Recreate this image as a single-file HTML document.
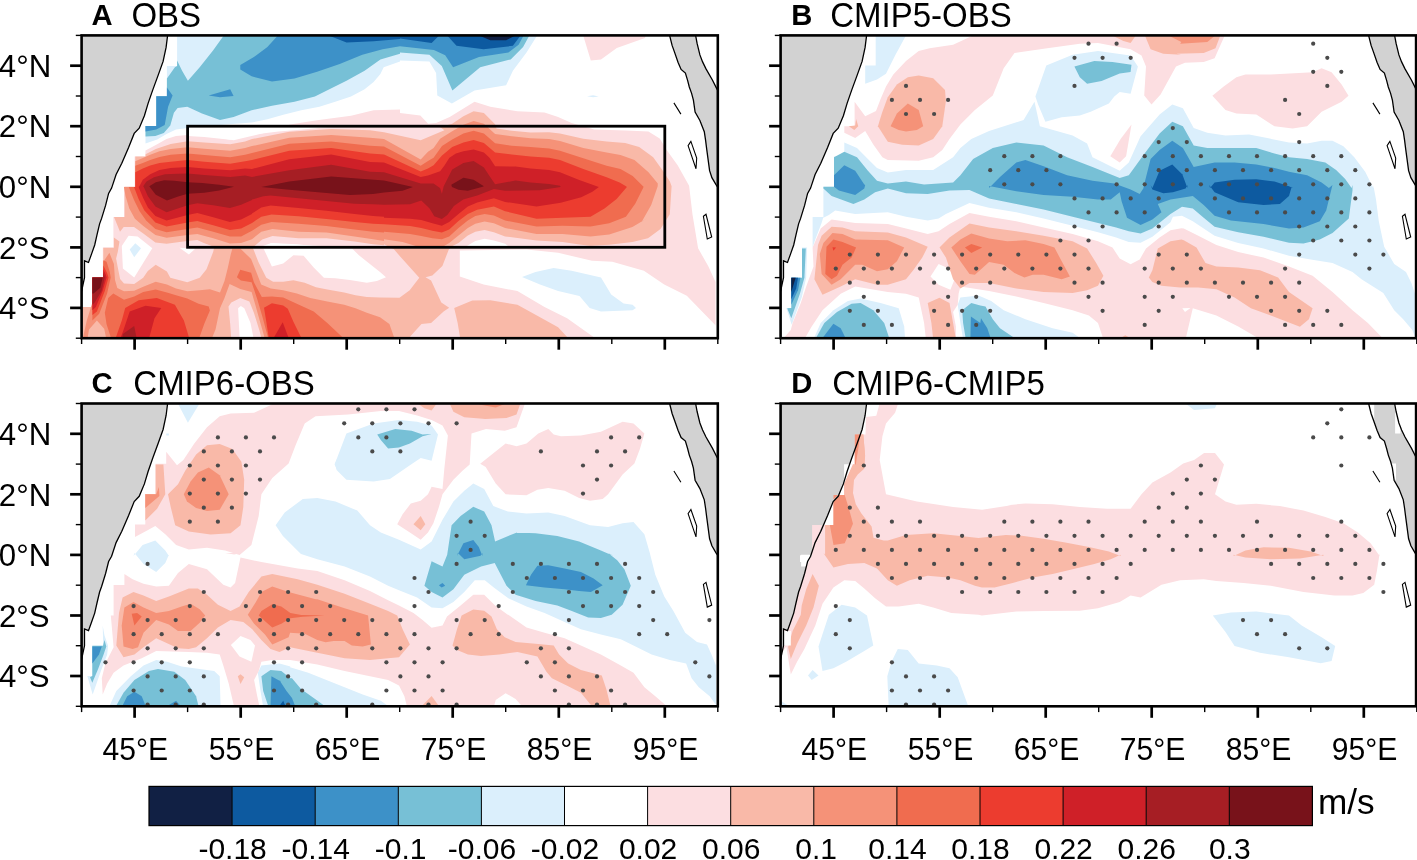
<!DOCTYPE html><html><head><meta charset="utf-8"><title>Figure</title><style>html,body{margin:0;padding:0;background:#fff}svg{display:block}text{font-family:"Liberation Sans",sans-serif;fill:#000}</style></head><body>
<svg width="1417" height="860" viewBox="0 0 1417 860">
<rect width="1417" height="860" fill="#fff"/>
<g transform="translate(81.6,35.4)">
<clipPath id="cpA"><rect x="0" y="0" width="636.2" height="302.8"/></clipPath>
<g clip-path="url(#cpA)">
<polygon fill="#dbeffc" points="95.5,0.2 95.5,30.7 85.3,30.7 85.3,60.8 74.7,60.8 74.7,90.6 63.9,90.6 63.9,108.0 75.6,104.1 84.9,98.7 94.4,94.2 105.9,92.6 138.4,89.5 170.0,87.2 185.8,83.8 201.7,79.3 219.7,74.8 237.8,71.4 253.6,66.4 269.4,61.2 283.0,53.8 292.0,46.5 298.8,38.6 302.1,31.9 318.4,26.2 318.4,25.1 347.8,26.2 354.5,37.5 355.7,60.1 370.3,68.0 392.9,55.1 424.5,49.9 431.3,35.3 444.9,17.2 456.2,-0.9 95.5,-0.9"/>
<polygon fill="#77c0d6" points="142.9,-0.9 131.6,14.9 118.1,31.9 106.3,45.4 100.5,35.3 95.5,25.1 95.5,30.7 93.3,31.9 85.3,43.2 85.3,60.8 74.7,60.8 74.7,90.6 63.9,90.6 63.9,101.2 73.8,100.7 82.2,97.6 88.7,90.1 92.3,77.3 96.0,72.5 105.7,71.4 120.4,78.2 138.4,84.5 152.0,81.5 170.0,74.8 190.4,70.3 212.9,66.4 233.3,61.2 246.8,54.4 264.9,45.4 283.0,35.3 298.8,24.0 318.4,18.3 318.4,17.2 347.8,19.4 360.2,30.7 370.8,55.1 398.6,31.9 429.1,24.0 441.5,11.5 448.3,-0.9"/>
<polygon fill="#3d91c8" points="197.1,-0.9 185.8,11.5 172.3,21.7 158.7,29.6 158.7,34.1 170.0,40.9 190.4,46.1 212.9,43.2 235.5,36.4 258.1,28.5 280.7,19.4 301.0,13.8 318.4,10.9 318.4,10.9 352.3,14.5 363.6,19.9 371.5,31.9 397.4,21.7 426.8,17.2 437.0,9.3 442.6,-0.9"/>
<polygon fill="#3d91c8" points="85.3,52.2 91.0,60.1 86.5,71.4 83.1,89.5 74.7,94.0 63.9,96.2 63.9,90.6 74.7,90.6 74.7,60.8 85.3,60.8"/>
<polygon fill="#3d91c8" points="127.1,60.1 148.6,53.8 152.0,60.5 138.4,61.9"/>
<polygon fill="#0d5aa0" points="244.6,-0.9 264.9,7.0 292.0,5.9 318.4,3.6 318.4,3.2 350.0,7.7 358.6,-0.9"/>
<polygon fill="#0d5aa0" points="364.7,-0.9 374.9,10.4 402.0,13.8 431.3,10.4 439.7,-0.9"/>
<polygon fill="#112044" points="395.2,-0.9 408.7,4.8 424.5,4.8 435.8,-0.9"/>
<polygon fill="#fcdee1" points="501.3,-0.9 509.2,25.1 519.4,24.0 535.2,12.7 563.4,2.5 564.6,-0.9"/>
<polygon fill="#dbeffc" points="505.4,60.8 511.5,59.9 517.1,61.0 511.5,61.9"/>
<polygon fill="#fcdee1" points="63.9,115.0 75.6,108.9 84.9,103.7 94.4,100.5 105.9,99.6 115.8,99.2 133.9,101.9 152.0,104.8 170.0,100.7 188.1,96.2 208.4,89.0 235.5,84.9 269.4,80.4 292.0,74.8 318.4,74.1 318.4,77.7 338.7,80.0 346.6,88.3 354.5,87.6 368.1,81.5 392.9,66.4 408.7,71.4 435.8,75.9 462.9,77.0 476.5,81.5 490.0,87.6 512.6,94.0 544.2,95.1 566.8,96.2 578.1,103.0 584.9,114.3 596.2,130.1 607.5,150.4 610.9,179.0 616.5,212.8 626.7,230.9 633.9,246.7 633.9,307.7 0.0,308.9 0.0,272.5 10.6,272.5 10.6,242.2 21.2,242.2 21.2,212.0 31.8,212.0 31.8,181.7 42.4,181.7 42.4,151.4 53.0,151.4 53.0,121.1 63.6,121.1"/>
<polygon fill="#ffffff" points="378.2,215.1 444.9,214.0 476.5,217.4 510.4,225.3 530.7,226.4 562.3,235.4 582.6,249.0 605.2,260.3 634.6,290.7 634.6,307.7 520.5,307.7 485.5,282.8 462.9,271.6 435.8,255.7 402.0,249.0 378.2,241.1"/>
<polygon fill="#dbeffc" points="440.4,241.7 453.9,236.5 472.0,232.7 490.0,235.4 519.4,242.2 529.6,259.1 542.0,268.2 551.0,269.3 554.4,272.7 551.0,274.9 519.4,276.1 508.1,272.7 497.9,260.7 476.5,255.7 458.4,249.0"/>
<polygon fill="#ffffff" points="181.9,213.0 270.5,213.0 277.3,219.8 288.6,228.8 298.4,236.7 304.4,241.8 295.3,245.7 285.2,247.4 285.2,247.4 268.3,244.6 253.6,242.9 242.3,242.3 232.1,232.2 222.0,220.3 211.8,219.8 201.6,228.2 190.3,231.1"/>
<polygon fill="#ffffff" points="47.0,200.4 56.0,201.1 70.7,212.8 52.6,242.2 41.3,233.2 40.2,210.6"/>
<polygon fill="#dbeffc" points="48.1,214.0 53.7,207.9 59.4,212.8 52.6,221.9"/>
<polygon fill="#ffffff" points="97.8,212.4 107.3,219.2 113.6,213.3"/>
<polygon fill="#ffffff" points="384.4,211.2 393.7,205.6 403.0,203.3 412.3,205.2 423.5,208.4 427.2,211.2"/>
<polygon fill="#ffffff" points="178.4,211.7 189.6,207.6 215.6,208.9 239.8,211.7"/>
<polygon fill="#ffffff" points="106.0,91.7 106.0,100.6 122.6,101.6 148.6,104.4 163.5,99.7 178.4,96.0 178.4,98.4 197.0,96.0 215.6,94.7 239.8,92.3 252.8,91.7"/>
<polygon fill="#f9b9a8" points="64.0,118.9 74.2,113.7 89.1,108.5 106.0,105.9 122.6,107.2 148.6,108.8 163.5,106.2 170.4,103.7 207.7,96.3 249.6,93.5 288.4,94.9 302.4,96.8 339.1,104.9 362.8,94.9 358.5,91.6 370.6,88.4 381.8,80.9 392.0,75.8 402.3,77.7 413.5,88.8 414.9,93.0 430.2,95.4 448.9,97.2 467.5,96.8 478.4,98.1 501.7,103.3 525.0,106.1 543.6,107.5 557.6,111.7 571.6,121.9 580.9,134.9 588.3,146.1 590.0,150.9 588.2,178.8 578.9,193.7 566.4,202.8 550.8,206.6 527.6,209.4 508.9,210.3 499.6,209.4 481.0,206.6 454.9,205.2 423.5,201.0 412.3,196.8 403.0,194.5 393.7,196.3 386.2,200.0 376.9,207.5 371.3,210.3 367.6,213.5 311.7,213.5 302.4,208.9 302.4,209.8 291.5,208.9 272.9,206.1 244.9,202.8 217.0,202.8 190.9,200.5 180.6,204.2 173.2,210.3 170.4,213.1 131.6,211.2 122.2,207.5 115.7,204.7 105.9,205.6 98.0,206.6 85.0,208.4 73.8,207.0 61.7,198.2 52.4,191.7 42.1,191.7 38.4,196.3 32.4,181.6 43.0,181.6 43.0,151.4 53.7,151.4 53.7,121.1 64.0,121.1"/>
<polygon fill="#f9b9a8" points="32.3,202.0 37.9,206.1 36.2,216.4 34.5,223.2 36.2,232.2 38.5,243.5 42.4,248.0 52.6,248.6 61.6,242.3 66.2,235.6 74.1,229.4 85.3,236.1 88.7,242.3 105.7,246.9 118.1,242.3 124.9,233.9 131.6,216.4 133.3,208.5 142.9,208.8 170.0,208.8 172.3,215.2 176.8,226.5 184.7,242.3 191.5,246.3 201.6,246.3 211.8,244.8 223.1,247.4 234.4,251.9 245.7,254.2 262.6,257.0 273.9,259.8 285.2,261.5 298.4,262.1 317.9,262.4 328.1,254.8 337.7,242.3 317.9,220.3 311.7,213.0 367.6,213.0 360.8,230.5 350.7,240.1 343.9,241.8 349.5,245.2 359.7,267.2 367.6,272.3 362.0,276.2 349.5,287.5 339.9,288.6 328.6,301.1 328.6,304.5 0.2,307.7 0.2,272.2 10.8,272.2 10.8,242.2 21.7,242.2 21.7,212.4 32.3,212.4"/>
<polygon fill="#f9b9a8" points="372.6,272.7 390.7,265.2 408.7,264.8 435.8,269.3 456.2,280.6 476.5,291.9 491.2,307.7 379.4,307.7 376.0,287.4"/>
<polygon fill="#f59278" points="53.7,125.8 61.2,122.6 68.6,119.3 77.9,115.9 89.1,113.7 106.0,111.8 122.6,113.3 148.6,115.3 163.5,112.7 170.4,110.7 207.7,102.3 249.6,99.5 288.4,102.4 302.4,103.7 339.1,124.1 346.4,116.3 352.0,112.6 358.5,103.3 370.6,95.8 381.8,89.3 392.0,85.6 402.3,88.4 413.5,98.6 430.2,100.9 448.9,102.8 467.5,103.7 478.4,105.6 501.7,112.6 525.0,117.2 538.9,119.6 552.9,124.7 566.9,136.8 576.2,148.0 576.1,150.9 569.6,169.5 560.3,186.2 566.4,182.3 550.8,191.7 527.6,199.1 508.9,201.0 481.0,198.6 454.9,198.6 423.5,192.6 412.3,187.9 403.0,186.1 393.7,188.4 386.2,192.6 376.9,200.0 367.6,207.5 362.0,210.8 349.0,212.1 335.0,210.8 321.0,206.6 302.4,203.8 302.4,205.6 291.5,203.8 272.9,201.0 244.9,197.2 217.0,196.3 190.9,193.5 179.7,196.3 170.4,203.8 170.4,203.8 159.5,207.5 148.3,208.0 131.6,202.8 115.7,198.6 105.9,199.6 85.0,202.4 73.8,199.6 61.7,190.7 53.3,183.3 47.7,173.0 44.0,160.9 42.3,151.6 53.7,151.6"/>
<polygon fill="#f59278" points="21.7,226.4 27.8,217.4 32.3,228.6 33.4,244.5 35.7,252.5 42.4,255.9 52.6,255.3 61.6,251.4 74.1,246.3 85.3,249.1 94.4,253.1 105.7,255.9 118.1,254.8 128.3,253.9 138.4,257.0 142.9,245.7 146.3,232.2 149.1,219.2 150.8,213.0 158.7,213.0 169.5,223.7 175.7,239.0 179.6,249.1 189.2,253.1 201.6,254.8 215.2,258.2 228.7,262.7 245.7,266.1 262.6,269.4 273.9,272.8 285.2,277.4 298.4,281.9 307.8,288.6 313.4,304.5 0.2,307.7 0.2,272.2 10.8,272.2 10.8,242.2 21.7,242.2"/>
<polygon fill="#f9b9a8" points="128.3,307.7 133.9,294.1 138.4,272.8 142.9,262.7 148.0,248.6 158.7,253.6 170.0,256.5 173.4,268.3 179.1,288.6 183.6,304.5"/>
<polygon fill="#fcdee1" points="146.9,271.1 149.7,267.2 158.7,262.7 167.8,266.1 172.3,277.4 177.9,295.4 180.2,304.5 149.7,304.5 148.6,288.6"/>
<polygon fill="#ffffff" points="156.5,272.8 159.3,270.6 162.7,272.8 168.9,287.5 172.3,304.5 158.2,304.5 157.0,283.0"/>
<polygon fill="#f9b9a8" points="0.2,272.2 10.8,272.2 10.8,267.0 21.0,285.1 25.5,307.7 0.2,307.7"/>
<polygon fill="#f59278" points="10.8,267.0 21.0,276.1 23.2,294.1 15.3,285.1 7.4,294.1 5.2,307.7 0.2,307.7 5.2,285.1"/>
<polygon fill="#f06c4f" points="53.7,130.4 61.2,127.6 68.6,124.5 77.9,121.5 89.1,119.3 106.0,118.1 122.6,119.6 148.6,121.9 163.5,119.3 170.4,117.7 207.7,108.4 249.6,106.1 288.4,110.4 302.4,111.2 339.1,130.3 346.4,125.6 352.0,122.4 360.4,110.7 370.6,104.2 381.8,98.1 392.0,95.4 402.3,98.1 413.5,107.9 430.2,110.3 448.9,111.7 467.5,113.1 478.4,115.4 501.7,122.8 525.0,130.3 538.9,133.5 551.1,140.5 562.2,151.7 561.2,151.8 562.0,151.6 553.6,168.4 544.3,181.4 527.6,187.9 508.9,191.2 481.0,190.3 454.9,191.2 423.5,185.1 412.3,180.0 403.0,178.6 393.7,180.5 386.2,185.1 376.9,192.6 367.6,201.0 360.2,203.8 350.8,202.8 339.7,200.5 328.5,198.6 302.4,196.3 302.4,197.2 291.5,196.3 272.9,194.0 244.9,190.7 217.0,188.4 190.0,186.5 179.7,189.3 170.4,195.4 170.4,195.4 159.5,201.0 148.3,201.0 131.6,196.3 115.7,192.1 105.9,193.5 85.0,196.8 73.8,193.5 64.5,185.1 58.0,175.8 52.4,164.6 47.2,151.6 53.7,151.6"/>
<polygon fill="#f06c4f" points="31.7,258.2 42.4,264.4 52.6,261.0 61.6,256.5 74.1,254.2 85.3,257.0 94.4,259.8 105.7,263.2 117.0,268.3 127.1,271.1 128.3,275.1 122.6,288.6 115.8,307.8 31.1,307.8 24.9,288.6 23.2,277.4 26.6,262.7"/>
<polygon fill="#f06c4f" points="155.3,241.8 158.7,234.4 169.5,237.3 172.3,246.9 180.2,261.5 190.3,261.0 201.6,262.1 215.2,268.3 232.1,276.2 245.7,287.5 263.7,304.5 187.0,304.5 181.3,283.0 175.7,263.8 170.0,246.9 159.3,245.2"/>
<polygon fill="#f06c4f" points="21.7,224.8 25.0,226.4 28.2,236.5 29.1,242.2 25.5,258.0 17.6,278.3 10.8,285.1 10.8,242.2 21.7,242.2"/>
<polygon fill="#ec3c2f" points="53.7,136.9 61.2,133.2 68.6,130.0 77.9,127.6 89.1,126.3 106.0,124.6 122.6,126.3 148.6,128.4 163.5,125.9 170.4,124.7 207.7,115.4 249.6,112.6 288.4,118.2 302.4,119.1 339.1,136.1 346.4,133.1 352.0,129.8 360.4,120.0 370.6,111.7 381.8,107.0 392.0,104.7 402.3,107.5 413.5,117.2 430.2,119.1 448.9,121.0 467.5,122.4 478.4,124.7 501.7,133.5 525.0,141.9 538.0,147.1 544.4,150.9 545.3,151.6 535.0,163.7 522.9,173.0 508.9,181.4 481.0,182.3 454.9,183.3 423.5,175.8 412.3,171.2 395.6,174.4 386.2,178.6 376.9,185.6 367.6,194.0 360.2,197.2 350.8,195.4 339.7,192.6 328.5,190.7 302.4,188.9 302.4,188.9 291.5,188.4 272.9,186.5 244.9,183.7 217.0,180.9 190.0,179.1 179.7,181.4 170.4,187.5 170.4,187.5 159.5,193.1 148.3,194.5 131.6,189.8 115.7,185.6 105.9,187.0 85.0,191.2 73.8,187.0 62.6,174.9 57.0,163.7 52.4,151.6 53.7,151.6"/>
<polygon fill="#ec3c2f" points="40.2,285.1 43.6,272.7 57.1,264.8 75.2,262.5 93.3,269.3 102.3,285.1 109.1,307.7 32.3,307.7"/>
<polygon fill="#ec3c2f" points="182.4,272.3 190.3,267.8 201.6,270.0 206.2,273.4 211.8,286.4 220.8,304.5 187.5,304.5 184.7,286.4"/>
<polygon fill="#ec3c2f" points="21.7,230.0 25.5,237.7 26.9,242.2 23.2,255.7 15.3,276.1 10.8,279.5 10.8,242.2 21.7,242.2"/>
<polygon fill="#cf2028" points="57.8,150.9 61.2,144.4 68.6,138.8 77.9,134.5 89.1,132.6 106.0,131.7 122.6,133.2 148.6,134.9 163.5,133.0 170.4,133.5 207.7,123.8 249.6,119.1 288.4,126.6 302.4,127.0 339.1,141.7 346.4,140.1 358.5,135.9 362.7,130.3 367.8,122.4 374.3,118.2 381.8,115.8 392.0,114.0 402.3,117.2 407.9,122.4 413.5,130.8 434.0,131.2 448.9,133.1 467.5,134.5 478.4,136.8 497.0,144.3 516.5,151.4 517.3,151.6 510.8,156.3 499.6,161.8 479.1,167.4 454.9,171.2 423.5,166.5 412.3,162.8 395.6,167.0 386.2,171.2 376.9,178.6 367.6,186.5 360.2,190.3 350.8,187.9 339.7,184.7 328.5,183.3 302.4,182.3 302.4,181.4 291.5,180.5 272.9,178.6 244.9,175.4 217.0,172.6 189.0,170.2 179.7,172.1 170.4,178.1 170.4,178.6 159.5,184.2 148.3,186.5 131.6,181.9 115.7,177.7 105.9,179.5 85.0,185.1 73.8,180.5 66.3,172.1 61.7,162.8 57.0,151.6"/>
<polygon fill="#cf2028" points="41.3,296.4 48.1,276.1 63.9,270.4 79.7,272.7 72.9,282.8 66.2,307.7 36.8,307.7"/>
<polygon fill="#cf2028" points="190.9,304.5 201.1,286.9 207.8,304.5"/>
<polygon fill="#cf2028" points="21.7,233.8 24.1,239.0 25.0,242.2 21.0,255.7 14.2,271.6 10.8,274.9 10.8,242.2 21.7,242.2"/>
<polygon fill="#a61e24" points="61.6,150.9 64.9,146.2 72.4,141.9 83.5,138.8 96.5,138.4 106.0,138.2 122.6,139.7 148.6,141.6 163.5,140.1 170.4,141.5 207.7,134.9 249.6,129.4 288.4,136.3 302.4,136.8 339.1,148.0 351.9,148.1 358.4,152.7 360.3,158.3 362.1,150.9 370.6,134.0 381.8,127.5 392.0,125.6 402.3,132.1 407.9,140.5 413.5,148.9 434.0,145.2 448.9,147.1 467.5,148.5 478.4,150.3 479.1,151.6 457.7,154.9 423.5,155.3 412.3,153.5 395.6,160.0 381.6,164.2 372.3,170.7 365.7,179.5 360.2,183.7 352.7,180.9 348.0,173.0 339.7,165.1 328.5,168.8 302.4,169.3 302.4,169.3 291.5,168.8 272.9,168.4 244.9,165.6 217.0,162.8 189.0,160.0 181.6,160.9 170.4,164.2 170.4,164.6 159.5,169.3 148.3,172.6 131.6,169.8 115.7,167.9 105.9,169.8 85.0,176.8 73.8,171.2 66.3,160.9 62.2,151.6"/>
<polygon fill="#a61e24" points="41.3,298.7 52.6,290.7 56.0,307.7 40.2,307.7"/>
<polygon fill="#a61e24" points="21.7,236.8 23.2,242.2 19.9,255.7 13.1,267.0 10.8,269.3 10.8,242.2 21.7,242.2"/>
<polygon fill="#78121a" points="67.7,150.9 74.2,146.8 82.6,144.9 92.8,145.3 106.0,146.8 120.7,147.5 137.5,149.4 152.4,151.4 137.5,155.0 122.6,157.4 106.0,158.3 96.5,161.1 85.4,165.2 74.2,159.3 70.5,154.6"/>
<polygon fill="#78121a" points="179.7,151.7 207.7,146.1 249.6,141.0 302.4,145.2 319.2,148.8 331.3,151.6 321.0,155.3 302.4,157.2 291.5,158.6 268.2,159.5 244.9,157.7 207.7,154.4 179.7,151.6"/>
<polygon fill="#78121a" points="369.7,149.4 381.8,142.4 392.0,144.3 402.3,150.8 400.2,151.6 386.2,155.3 376.9,154.4 370.4,151.6"/>
<polygon fill="#78121a" points="10.8,242.2 21.0,242.2 18.7,252.4 12.0,258.0 10.8,258.0"/>
<polygon fill="#ffffff" points="189.0,207.7 201.1,208.6 230.0,210.0 241.2,210.5 189.0,210.5"/>
<polygon fill="#d2d2d2" points="86.0,0.0 84.5,12.0 81.5,26.0 76.5,40.0 71.0,55.0 66.5,68.0 62.8,80.4 57.6,92.8 52.6,98.0 47.0,112.0 40.2,127.8 34.5,139.1 30.0,152.7 27.0,158.0 24.0,170.0 20.0,183.0 18.0,188.5 15.5,199.0 13.1,209.6 10.0,218.5 6.9,227.1 2.9,225.4 2.9,242.3 1.2,250.2 0.0,256.0 0.0,0.0"/>
<polygon fill="#d2d2d2" points="588.0,0.0 590.5,10.0 593.0,17.0 596.5,27.0 599.5,34.0 603.8,37.6 606.0,45.0 607.7,51.6 610.0,58.0 611.8,64.7 613.5,76.7 618.3,85.1 622.7,96.3 624.0,105.0 625.2,114.4 628.0,135.3 630.3,142.3 634.4,149.3 636.2,152.0 636.2,55.0 636.2,55.0 635.0,53.0 630.8,44.6 624.4,33.5 621.0,26.5 618.3,19.5 615.5,8.0 614.0,0.0"/>
<polyline fill="none" stroke="#000" stroke-width="1.3" points="86.0,0.0 84.5,12.0 81.5,26.0 76.5,40.0 71.0,55.0 66.5,68.0 62.8,80.4 57.6,92.8 52.6,98.0 47.0,112.0 40.2,127.8 34.5,139.1 30.0,152.7 27.0,158.0 24.0,170.0 20.0,183.0 18.0,188.5 15.5,199.0 13.1,209.6 10.0,218.5 6.9,227.1 2.9,225.4 2.9,242.3 1.2,250.2 0.0,256.0"/>
<polyline fill="none" stroke="#000" stroke-width="1.3" points="588.0,0.0 590.5,10.0 593.0,17.0 596.5,27.0 599.5,34.0 603.8,37.6 606.0,45.0 607.7,51.6 610.0,58.0 611.8,64.7 613.5,76.7 618.3,85.1 622.7,96.3 624.0,105.0 625.2,114.4 628.0,135.3 630.3,142.3 634.4,149.3 636.2,152.0"/>
<polyline fill="none" stroke="#000" stroke-width="1.3" points="614.0,0.0 615.5,8.0 618.3,19.5 621.0,26.5 624.4,33.5 630.8,44.6 635.0,53.0 636.2,55.0"/>
<polygon fill="none" stroke="#000" stroke-width="1.1" points="592.3,67.5 599.3,78.7"/>
<polygon fill="none" stroke="#000" stroke-width="1.1" points="609.3,106.0 606.5,110.2 614.4,133.4 615.1,122.6"/>
<polygon fill="none" stroke="#000" stroke-width="1.1" points="624.4,178.9 621.8,180.9 625.7,203.6 630.1,201.6"/>
<rect x="106.0" y="90.8" width="477.2" height="121.1" fill="none" stroke="#000" stroke-width="2.8"/>
</g>
<rect x="0" y="0" width="636.2" height="302.8" fill="none" stroke="#000" stroke-width="2.6"/>
<line x1="-5.8" y1="0.0" x2="0" y2="0.0" stroke="#000" stroke-width="1.4"/>
<line x1="-11.5" y1="30.3" x2="0" y2="30.3" stroke="#000" stroke-width="2.7"/>
<line x1="-5.8" y1="60.6" x2="0" y2="60.6" stroke="#000" stroke-width="1.4"/>
<line x1="-11.5" y1="90.8" x2="0" y2="90.8" stroke="#000" stroke-width="2.7"/>
<line x1="-5.8" y1="121.1" x2="0" y2="121.1" stroke="#000" stroke-width="1.4"/>
<line x1="-11.5" y1="151.4" x2="0" y2="151.4" stroke="#000" stroke-width="2.7"/>
<line x1="-5.8" y1="181.7" x2="0" y2="181.7" stroke="#000" stroke-width="1.4"/>
<line x1="-11.5" y1="212.0" x2="0" y2="212.0" stroke="#000" stroke-width="2.7"/>
<line x1="-5.8" y1="242.2" x2="0" y2="242.2" stroke="#000" stroke-width="1.4"/>
<line x1="-11.5" y1="272.5" x2="0" y2="272.5" stroke="#000" stroke-width="2.7"/>
<line x1="-5.8" y1="302.8" x2="0" y2="302.8" stroke="#000" stroke-width="1.4"/>
<line x1="0.0" y1="302.8" x2="0.0" y2="308.6" stroke="#000" stroke-width="1.4"/>
<line x1="53.0" y1="302.8" x2="53.0" y2="314.3" stroke="#000" stroke-width="2.7"/>
<line x1="106.0" y1="302.8" x2="106.0" y2="308.6" stroke="#000" stroke-width="1.4"/>
<line x1="159.1" y1="302.8" x2="159.1" y2="314.3" stroke="#000" stroke-width="2.7"/>
<line x1="212.1" y1="302.8" x2="212.1" y2="308.6" stroke="#000" stroke-width="1.4"/>
<line x1="265.1" y1="302.8" x2="265.1" y2="314.3" stroke="#000" stroke-width="2.7"/>
<line x1="318.1" y1="302.8" x2="318.1" y2="308.6" stroke="#000" stroke-width="1.4"/>
<line x1="371.1" y1="302.8" x2="371.1" y2="314.3" stroke="#000" stroke-width="2.7"/>
<line x1="424.1" y1="302.8" x2="424.1" y2="308.6" stroke="#000" stroke-width="1.4"/>
<line x1="477.2" y1="302.8" x2="477.2" y2="314.3" stroke="#000" stroke-width="2.7"/>
<line x1="530.2" y1="302.8" x2="530.2" y2="308.6" stroke="#000" stroke-width="1.4"/>
<line x1="583.2" y1="302.8" x2="583.2" y2="314.3" stroke="#000" stroke-width="2.7"/>
<line x1="636.2" y1="302.8" x2="636.2" y2="308.6" stroke="#000" stroke-width="1.4"/>
<text transform="translate(9.8,-10.8) scale(1,1.030)" font-size="29.2" font-weight="bold">A</text>
<text transform="translate(49.8,-8.6) scale(1,1.050)" font-size="33.0">OBS</text>
</g>
<g transform="translate(780.6,35.4)">
<clipPath id="cpB"><rect x="0" y="0" width="636.2" height="302.8"/></clipPath>
<g clip-path="url(#cpB)">
<polygon fill="#dbeffc" points="63.7,107.2 76.4,112.7 87.3,123.6 96.4,132.6 107.2,137.2 125.4,134.5 152.6,134.5 172.5,121.8 179.8,112.7 190.7,103.6 208.5,95.5 243.0,84.6 253.9,66.4 259.3,90.9 292.0,100.0 306.5,108.2 311.9,121.8 339.1,135.4 348.2,127.2 360.0,100.9 379.0,79.1 391.7,69.2 402.3,72.8 413.1,92.7 426.7,97.3 444.9,100.0 468.5,99.1 486.6,102.7 508.4,107.2 526.5,108.2 541.0,105.4 551.9,105.4 562.8,110.9 573.7,121.8 584.6,136.3 592.7,152.6 592.7,149.6 595.4,164.1 598.2,185.9 603.6,211.3 613.6,228.5 625.4,236.7 630.8,247.6 634.4,258.4 634.4,301.6 631.7,294.7 622.6,283.8 613.6,274.8 602.7,257.5 580.9,243.9 571.9,236.7 551.9,227.6 530.1,224.0 508.4,220.3 483.0,213.1 457.6,207.6 434.0,200.4 412.2,185.9 401.4,180.4 392.3,181.3 389.9,186.8 371.8,201.3 360.0,207.3 348.2,206.7 335.5,202.2 317.4,196.8 292.0,190.4 263.0,183.2 235.7,176.8 208.5,172.3 188.9,167.7 165.3,178.6 158.0,183.2 147.1,185.0 125.4,181.3 107.2,176.8 74.6,178.6 54.6,175.0 48.3,179.5 42.8,182.3 42.8,181.7 41.0,187.7 34.7,204.0 32.0,212.2 32.0,181.7 42.8,181.7 42.8,151.4 53.4,151.4 53.4,121.0 63.7,121.0"/>
<polygon fill="#77c0d6" points="53.4,121.8 63.7,116.3 76.4,121.8 87.3,135.4 96.4,145.3 107.2,148.1 125.4,146.2 143.5,149.0 172.5,147.2 179.8,139.9 192.5,123.6 212.2,112.7 235.7,107.2 263.0,110.0 286.5,121.8 311.9,131.7 339.1,142.6 348.2,139.9 362.7,119.9 379.0,98.2 391.7,86.4 402.3,90.9 413.1,110.0 426.7,112.7 454.0,112.7 475.7,112.7 493.9,118.1 508.4,121.8 526.5,123.6 544.7,127.2 555.5,134.5 564.6,143.5 571.0,152.6 571.9,149.6 571.9,155.0 568.2,183.2 551.9,197.7 539.2,204.0 522.9,208.0 508.4,207.3 483.0,201.3 457.6,196.8 434.0,191.3 423.1,182.3 412.2,173.2 401.4,171.4 389.9,178.6 371.8,193.1 360.0,198.2 348.2,195.9 335.5,192.2 317.4,187.7 292.0,181.3 263.0,174.1 235.7,168.6 208.5,163.2 188.9,154.7 168.9,155.0 147.1,158.7 125.4,157.8 107.2,153.2 94.5,156.9 83.7,164.1 72.8,168.6 51.0,160.5 42.8,153.2 42.8,151.4 53.4,151.4"/>
<polygon fill="#3d91c8" points="53.4,139.9 63.7,129.9 74.6,135.4 83.7,149.0 84.6,149.6 83.7,153.2 74.6,159.6 58.3,155.0 53.4,151.4"/>
<polygon fill="#3d91c8" points="208.5,152.6 219.4,141.7 235.7,127.2 244.8,124.5 263.0,130.8 286.5,139.9 311.9,145.3 333.7,148.1 350.0,154.1 359.1,158.7 362.7,153.2 364.5,145.3 370.0,123.6 379.0,114.5 391.7,105.4 402.3,112.7 413.1,131.7 434.0,127.2 454.0,127.2 475.7,129.0 493.9,132.6 508.4,136.3 526.5,139.9 541.0,147.2 548.3,152.6 551.9,149.6 551.0,153.2 545.6,175.0 539.2,185.9 522.9,192.2 508.4,193.1 483.0,188.6 450.3,185.0 434.0,180.4 423.1,169.6 412.2,160.5 389.9,164.1 377.2,168.6 380.9,176.8 371.8,184.1 360.0,189.5 346.4,182.3 341.0,165.9 339.1,156.9 330.1,164.1 317.4,164.1 292.0,161.4 263.0,159.6 235.7,155.9 208.5,150.5"/>
<polygon fill="#0d5aa0" points="371.8,152.6 379.0,135.4 391.7,129.0 402.6,139.9 401.4,138.1 406.8,152.6 406.8,149.6 405.0,153.2 392.3,156.9 382.7,157.8 371.8,154.1 370.0,149.6"/>
<polygon fill="#0d5aa0" points="429.5,152.6 434.0,147.2 454.0,144.4 475.7,143.9 493.9,146.2 508.4,150.8 512.0,152.6 511.1,151.4 508.4,160.5 499.3,168.6 483.0,169.6 457.6,166.8 434.0,156.9 428.6,149.6"/>
<polygon fill="#dbeffc" points="254.8,61.0 265.7,30.2 292.0,19.3 317.4,15.6 350.0,20.2 357.3,31.1 350.0,58.3 339.1,56.5 333.7,61.0 328.3,68.2 310.1,76.4 299.2,80.0 281.1,81.9 264.8,86.4 257.5,69.2"/>
<polygon fill="#77c0d6" points="293.8,31.1 313.7,25.6 331.9,26.5 350.9,29.3 350.0,36.5 339.1,38.0 321.0,45.6 306.5,48.3 299.2,41.9"/>
<polygon fill="#dbeffc" points="95.1,-1.6 126.3,-1.6 114.5,20.2 105.4,38.3 96.4,44.1 84.6,48.3 84.6,30.2 95.1,30.2"/>
<polygon fill="#dbeffc" points="21.4,212.2 26.5,212.2 25.6,242.3 21.1,262.1 11.1,289.3 5.7,272.6 10.7,272.6 10.7,242.3 21.4,242.3"/>
<polygon fill="#77c0d6" points="21.4,213.1 25.2,213.1 23.8,242.3 19.3,258.4 10.7,282.9 6.6,272.9 10.7,272.6 10.7,242.3 21.4,242.3"/>
<polygon fill="#3d91c8" points="10.7,242.3 19.8,242.3 17.4,254.8 10.7,269.3"/>
<polygon fill="#0d5aa0" points="10.7,242.3 17.4,242.3 15.6,253.0 10.7,263.9"/>
<polygon fill="#112044" points="10.7,242.3 15.1,242.3 10.7,256.6"/>
<polygon fill="#dbeffc" points="32.9,303.8 40.1,287.5 52.8,274.8 67.3,265.7 80.0,263.0 100.0,267.5 118.1,272.9 123.6,291.1 124.5,303.8"/>
<polygon fill="#77c0d6" points="34.7,303.8 43.7,287.5 56.4,276.6 71.0,268.4 80.0,267.5 92.7,274.8 103.6,287.5 109.0,303.8"/>
<polygon fill="#3d91c8" points="41.0,303.8 52.8,288.4 60.1,292.9 65.5,303.8"/>
<polygon fill="#dbeffc" points="177.1,269.3 179.8,262.1 197.9,260.2 210.6,265.7 223.1,274.8 244.8,283.8 272.0,292.9 292.0,297.4 301.0,303.8 182.5,303.8 179.8,287.5"/>
<polygon fill="#77c0d6" points="181.6,274.8 190.7,267.5 199.7,270.2 204.9,271.1 212.2,283.8 219.4,292.9 235.7,303.8 185.2,303.8 182.5,287.5"/>
<polygon fill="#3d91c8" points="190.3,281.1 199.7,287.5 200.4,282.9 206.7,292.9 210.4,303.8 189.8,303.8"/>
<polygon fill="#fcdee1" points="196.1,-1.6 172.5,9.3 149.0,12.9 138.1,15.6 125.4,25.6 112.7,39.2 105.4,51.0 100.0,63.7 95.4,75.5 84.6,80.9 74.0,66.4 74.0,90.9 63.7,90.9 63.7,97.3 74.6,102.7 84.6,95.5 92.7,109.1 101.8,121.8 107.2,124.5 138.1,125.4 152.6,121.8 161.7,114.5 168.9,103.6 179.8,89.1 194.3,74.6 212.2,60.1 223.1,32.9 233.9,17.5 266.6,12.9 299.2,8.4 317.4,7.5 335.5,11.1 350.0,13.8 360.9,20.2 365.4,31.1 363.6,60.1 370.9,69.2 380.0,59.2 395.4,31.1 404.4,27.4 423.1,26.5 434.0,22.9 444.9,-1.6"/>
<polygon fill="#f9b9a8" points="363.6,-1.6 370.0,13.8 382.7,18.4 400.8,19.3 395.9,18.4 423.1,17.5 434.9,12.9 440.4,-1.6"/>
<polygon fill="#f9b9a8" points="328.3,-1.6 342.8,5.7 350.0,7.5 356.4,-1.6"/>
<polygon fill="#f59278" points="384.5,-1.6 400.8,6.6 399.5,8.4 426.7,6.6 436.7,-1.6"/>
<polygon fill="#f9b9a8" points="138.1,40.1 152.6,42.9 164.4,54.6 165.3,65.5 161.7,90.9 152.6,103.6 138.1,110.0 121.7,109.4 107.2,106.3 97.3,90.9 101.8,76.4 107.2,61.9 116.3,49.2 127.2,41.9"/>
<polygon fill="#f59278" points="127.2,68.2 138.1,74.6 142.6,90.9 136.3,94.6 125.4,96.0 118.1,94.6 110.0,90.9 116.3,78.2"/>
<polygon fill="#f9b9a8" points="75.5,83.7 77.7,90.9 73.7,94.6 68.2,90.9 74.6,90.0"/>
<polygon fill="#fcdee1" points="350.9,89.1 345.5,120.9 339.1,127.2 329.7,120.9 340.0,103.6"/>
<polygon fill="#fcdee1" points="431.8,60.4 443.1,51.0 455.8,41.9 464.8,39.2 490.2,39.2 522.9,37.4 532.0,36.9 541.0,32.9 551.0,36.9 561.0,49.2 567.9,60.4 561.0,66.4 541.0,76.4 526.5,90.9 512.0,93.1 493.9,90.9 475.7,79.1 455.8,78.2 444.9,74.6"/>
<polygon fill="#fcdee1" points="32.0,212.2 40.1,193.1 51.0,184.1 74.6,187.7 107.2,188.6 125.4,193.1 147.1,198.6 158.0,195.9 168.9,188.6 188.9,177.7 208.5,181.3 235.7,185.9 263.0,192.2 292.0,198.6 317.4,205.8 331.9,212.2 339.1,223.1 350.0,228.9 359.1,224.0 365.4,213.1 379.0,202.2 389.9,194.9 400.8,192.8 403.2,193.1 417.7,200.4 435.8,209.5 457.6,216.7 483.0,222.2 508.4,231.2 532.0,240.3 551.9,256.6 571.9,274.8 587.3,287.5 603.1,303.8 479.4,303.8 457.6,291.1 435.8,280.2 412.2,272.9 405.0,303.8 322.8,303.8 317.4,287.5 308.3,280.2 292.0,274.8 263.0,267.5 235.7,261.2 208.5,255.7 179.8,251.2 178.0,258.4 177.1,269.3 172.5,276.6 175.3,291.1 175.3,303.8 145.3,303.8 143.5,287.5 138.1,262.1 125.4,258.4 107.2,256.6 74.6,251.2 60.1,258.4 41.9,274.8 31.1,291.1 23.8,303.8 2.0,303.8 10.2,294.7 12.0,287.5 20.2,267.5 25.6,251.2 32.9,231.2"/>
<polygon fill="#ffffff" points="149.9,241.2 158.0,228.5 168.0,233.0 174.7,242.1 169.8,254.4 158.0,249.4"/>
<polygon fill="#ffffff" points="401.7,272.9 409.9,272.6 404.4,276.6"/>
<polygon fill="#f9b9a8" points="41.0,200.4 51.0,191.3 61.9,192.2 74.6,195.9 107.2,197.1 125.4,202.2 147.1,211.3 141.7,222.2 132.6,234.9 125.4,243.9 107.2,249.4 96.4,249.4 74.6,243.9 60.1,251.2 41.9,259.3 33.8,243.9 37.4,209.5"/>
<polygon fill="#f9b9a8" points="158.9,212.2 168.9,202.2 188.9,188.1 208.5,192.2 235.7,195.9 263.0,200.4 292.0,205.8 306.5,213.1 315.6,227.6 322.8,240.3 317.4,250.3 306.5,254.8 292.0,257.5 263.0,256.6 235.7,253.0 208.5,247.6 188.9,247.6 179.8,253.0 172.5,243.9 165.3,222.2"/>
<polygon fill="#f9b9a8" points="368.2,242.1 371.8,234.9 377.2,213.1 389.9,205.8 400.8,204.0 403.2,204.9 415.9,212.2 424.9,227.6 435.8,231.2 457.6,232.1 479.4,234.9 497.5,242.1 508.4,256.6 532.0,272.9 528.3,283.8 519.3,291.4 490.2,280.2 470.3,272.9 454.0,262.1 435.8,253.9 417.7,252.1 399.5,252.1 380.9,250.3 371.8,246.6"/>
<polygon fill="#f9b9a8" points="147.1,267.5 158.9,262.4 168.9,267.5 172.5,287.5 175.3,303.8 152.6,303.8 150.8,287.5"/>
<polygon fill="#f9b9a8" points="338.2,303.8 344.6,299.8 351.8,303.8"/>
<polygon fill="#f59278" points="42.8,207.6 51.9,197.7 61.9,198.6 74.6,204.0 107.2,204.9 123.6,212.2 116.3,225.8 107.2,233.9 96.4,235.8 81.8,229.4 74.6,229.4 60.1,243.9 51.0,249.4 41.0,238.5 39.2,218.5"/>
<polygon fill="#f59278" points="170.7,212.2 179.8,204.0 190.7,198.2 208.5,203.1 226.7,205.8 244.8,204.9 263.0,208.6 273.8,212.2 281.1,225.8 289.3,241.2 281.1,243.9 263.0,239.4 252.1,239.4 243.9,242.1 233.9,237.6 223.1,229.4 208.5,226.7 194.3,239.4 188.9,238.5 179.8,225.8"/>
<polygon fill="#f06c4f" points="45.9,211.3 52.8,204.0 61.9,206.7 75.5,212.2 71.0,222.2 61.9,229.4 56.4,240.3 51.0,243.9 44.7,238.5"/>
<polygon fill="#f06c4f" points="184.3,212.2 190.7,208.6 201.6,212.2 190.7,217.6"/>
<polygon fill="#ec3c2f" points="51.9,211.8 55.5,212.2 52.8,215.3"/>
<polygon fill="#d2d2d2" points="86.0,0.0 84.5,12.0 81.5,26.0 76.5,40.0 71.0,55.0 66.5,68.0 62.8,80.4 57.6,92.8 52.6,98.0 47.0,112.0 40.2,127.8 34.5,139.1 30.0,152.7 27.0,158.0 24.0,170.0 20.0,183.0 18.0,188.5 15.5,199.0 13.1,209.6 10.0,218.5 6.9,227.1 2.9,225.4 2.9,242.3 1.2,250.2 0.0,256.0 0.0,0.0"/>
<polygon fill="#d2d2d2" points="588.0,0.0 590.5,10.0 593.0,17.0 596.5,27.0 599.5,34.0 603.8,37.6 606.0,45.0 607.7,51.6 610.0,58.0 611.8,64.7 613.5,76.7 618.3,85.1 622.7,96.3 624.0,105.0 625.2,114.4 628.0,135.3 630.3,142.3 634.4,149.3 636.2,152.0 636.2,55.0 636.2,55.0 635.0,53.0 630.8,44.6 624.4,33.5 621.0,26.5 618.3,19.5 615.5,8.0 614.0,0.0"/>
<circle cx="55.2" cy="233.2" r="2.1" fill="#4a4a4a"/>
<circle cx="69.2" cy="219.2" r="2.1" fill="#4a4a4a"/>
<circle cx="69.2" cy="247.3" r="2.1" fill="#4a4a4a"/>
<circle cx="69.2" cy="275.4" r="2.1" fill="#4a4a4a"/>
<circle cx="83.2" cy="233.2" r="2.1" fill="#4a4a4a"/>
<circle cx="83.2" cy="261.4" r="2.1" fill="#4a4a4a"/>
<circle cx="83.2" cy="289.5" r="2.1" fill="#4a4a4a"/>
<circle cx="97.3" cy="219.2" r="2.1" fill="#4a4a4a"/>
<circle cx="97.3" cy="247.3" r="2.1" fill="#4a4a4a"/>
<circle cx="97.3" cy="275.4" r="2.1" fill="#4a4a4a"/>
<circle cx="111.3" cy="64.5" r="2.1" fill="#4a4a4a"/>
<circle cx="111.3" cy="233.2" r="2.1" fill="#4a4a4a"/>
<circle cx="111.3" cy="289.5" r="2.1" fill="#4a4a4a"/>
<circle cx="125.4" cy="50.5" r="2.1" fill="#4a4a4a"/>
<circle cx="125.4" cy="78.6" r="2.1" fill="#4a4a4a"/>
<circle cx="125.4" cy="219.2" r="2.1" fill="#4a4a4a"/>
<circle cx="139.4" cy="64.5" r="2.1" fill="#4a4a4a"/>
<circle cx="139.4" cy="233.2" r="2.1" fill="#4a4a4a"/>
<circle cx="153.5" cy="78.6" r="2.1" fill="#4a4a4a"/>
<circle cx="153.5" cy="219.2" r="2.1" fill="#4a4a4a"/>
<circle cx="153.5" cy="247.3" r="2.1" fill="#4a4a4a"/>
<circle cx="153.5" cy="275.4" r="2.1" fill="#4a4a4a"/>
<circle cx="167.5" cy="64.5" r="2.1" fill="#4a4a4a"/>
<circle cx="167.5" cy="233.2" r="2.1" fill="#4a4a4a"/>
<circle cx="167.5" cy="261.4" r="2.1" fill="#4a4a4a"/>
<circle cx="167.5" cy="289.5" r="2.1" fill="#4a4a4a"/>
<circle cx="181.5" cy="219.2" r="2.1" fill="#4a4a4a"/>
<circle cx="181.5" cy="247.3" r="2.1" fill="#4a4a4a"/>
<circle cx="181.5" cy="275.4" r="2.1" fill="#4a4a4a"/>
<circle cx="195.6" cy="233.2" r="2.1" fill="#4a4a4a"/>
<circle cx="195.6" cy="261.4" r="2.1" fill="#4a4a4a"/>
<circle cx="195.6" cy="289.5" r="2.1" fill="#4a4a4a"/>
<circle cx="209.6" cy="134.8" r="2.1" fill="#4a4a4a"/>
<circle cx="209.6" cy="219.2" r="2.1" fill="#4a4a4a"/>
<circle cx="209.6" cy="247.3" r="2.1" fill="#4a4a4a"/>
<circle cx="209.6" cy="275.4" r="2.1" fill="#4a4a4a"/>
<circle cx="223.7" cy="120.8" r="2.1" fill="#4a4a4a"/>
<circle cx="223.7" cy="148.9" r="2.1" fill="#4a4a4a"/>
<circle cx="223.7" cy="233.2" r="2.1" fill="#4a4a4a"/>
<circle cx="237.7" cy="134.8" r="2.1" fill="#4a4a4a"/>
<circle cx="237.7" cy="219.2" r="2.1" fill="#4a4a4a"/>
<circle cx="251.8" cy="120.8" r="2.1" fill="#4a4a4a"/>
<circle cx="251.8" cy="148.9" r="2.1" fill="#4a4a4a"/>
<circle cx="251.8" cy="233.2" r="2.1" fill="#4a4a4a"/>
<circle cx="265.8" cy="134.8" r="2.1" fill="#4a4a4a"/>
<circle cx="265.8" cy="219.2" r="2.1" fill="#4a4a4a"/>
<circle cx="279.8" cy="120.8" r="2.1" fill="#4a4a4a"/>
<circle cx="279.8" cy="148.9" r="2.1" fill="#4a4a4a"/>
<circle cx="279.8" cy="205.1" r="2.1" fill="#4a4a4a"/>
<circle cx="279.8" cy="233.2" r="2.1" fill="#4a4a4a"/>
<circle cx="293.9" cy="22.4" r="2.1" fill="#4a4a4a"/>
<circle cx="293.9" cy="50.5" r="2.1" fill="#4a4a4a"/>
<circle cx="293.9" cy="163.0" r="2.1" fill="#4a4a4a"/>
<circle cx="293.9" cy="191.1" r="2.1" fill="#4a4a4a"/>
<circle cx="293.9" cy="219.2" r="2.1" fill="#4a4a4a"/>
<circle cx="293.9" cy="247.3" r="2.1" fill="#4a4a4a"/>
<circle cx="307.9" cy="8.3" r="2.1" fill="#4a4a4a"/>
<circle cx="307.9" cy="177.0" r="2.1" fill="#4a4a4a"/>
<circle cx="307.9" cy="205.1" r="2.1" fill="#4a4a4a"/>
<circle cx="307.9" cy="233.2" r="2.1" fill="#4a4a4a"/>
<circle cx="307.9" cy="261.4" r="2.1" fill="#4a4a4a"/>
<circle cx="322.0" cy="22.4" r="2.1" fill="#4a4a4a"/>
<circle cx="322.0" cy="163.0" r="2.1" fill="#4a4a4a"/>
<circle cx="322.0" cy="191.1" r="2.1" fill="#4a4a4a"/>
<circle cx="322.0" cy="247.3" r="2.1" fill="#4a4a4a"/>
<circle cx="322.0" cy="275.4" r="2.1" fill="#4a4a4a"/>
<circle cx="336.0" cy="8.3" r="2.1" fill="#4a4a4a"/>
<circle cx="336.0" cy="148.9" r="2.1" fill="#4a4a4a"/>
<circle cx="336.0" cy="177.0" r="2.1" fill="#4a4a4a"/>
<circle cx="350.1" cy="22.4" r="2.1" fill="#4a4a4a"/>
<circle cx="350.1" cy="163.0" r="2.1" fill="#4a4a4a"/>
<circle cx="364.1" cy="120.8" r="2.1" fill="#4a4a4a"/>
<circle cx="364.1" cy="148.9" r="2.1" fill="#4a4a4a"/>
<circle cx="364.1" cy="177.0" r="2.1" fill="#4a4a4a"/>
<circle cx="364.1" cy="233.2" r="2.1" fill="#4a4a4a"/>
<circle cx="364.1" cy="261.4" r="2.1" fill="#4a4a4a"/>
<circle cx="364.1" cy="289.5" r="2.1" fill="#4a4a4a"/>
<circle cx="378.1" cy="106.7" r="2.1" fill="#4a4a4a"/>
<circle cx="378.1" cy="134.8" r="2.1" fill="#4a4a4a"/>
<circle cx="378.1" cy="163.0" r="2.1" fill="#4a4a4a"/>
<circle cx="378.1" cy="191.1" r="2.1" fill="#4a4a4a"/>
<circle cx="378.1" cy="219.2" r="2.1" fill="#4a4a4a"/>
<circle cx="378.1" cy="247.3" r="2.1" fill="#4a4a4a"/>
<circle cx="378.1" cy="275.4" r="2.1" fill="#4a4a4a"/>
<circle cx="392.2" cy="92.7" r="2.1" fill="#4a4a4a"/>
<circle cx="392.2" cy="120.8" r="2.1" fill="#4a4a4a"/>
<circle cx="392.2" cy="148.9" r="2.1" fill="#4a4a4a"/>
<circle cx="392.2" cy="233.2" r="2.1" fill="#4a4a4a"/>
<circle cx="392.2" cy="261.4" r="2.1" fill="#4a4a4a"/>
<circle cx="406.2" cy="106.7" r="2.1" fill="#4a4a4a"/>
<circle cx="406.2" cy="134.8" r="2.1" fill="#4a4a4a"/>
<circle cx="406.2" cy="219.2" r="2.1" fill="#4a4a4a"/>
<circle cx="406.2" cy="247.3" r="2.1" fill="#4a4a4a"/>
<circle cx="420.3" cy="120.8" r="2.1" fill="#4a4a4a"/>
<circle cx="420.3" cy="148.9" r="2.1" fill="#4a4a4a"/>
<circle cx="420.3" cy="233.2" r="2.1" fill="#4a4a4a"/>
<circle cx="434.3" cy="134.8" r="2.1" fill="#4a4a4a"/>
<circle cx="434.3" cy="163.0" r="2.1" fill="#4a4a4a"/>
<circle cx="434.3" cy="247.3" r="2.1" fill="#4a4a4a"/>
<circle cx="448.4" cy="120.8" r="2.1" fill="#4a4a4a"/>
<circle cx="448.4" cy="148.9" r="2.1" fill="#4a4a4a"/>
<circle cx="448.4" cy="177.0" r="2.1" fill="#4a4a4a"/>
<circle cx="448.4" cy="261.4" r="2.1" fill="#4a4a4a"/>
<circle cx="462.4" cy="134.8" r="2.1" fill="#4a4a4a"/>
<circle cx="462.4" cy="163.0" r="2.1" fill="#4a4a4a"/>
<circle cx="462.4" cy="247.3" r="2.1" fill="#4a4a4a"/>
<circle cx="476.4" cy="120.8" r="2.1" fill="#4a4a4a"/>
<circle cx="476.4" cy="148.9" r="2.1" fill="#4a4a4a"/>
<circle cx="476.4" cy="177.0" r="2.1" fill="#4a4a4a"/>
<circle cx="476.4" cy="261.4" r="2.1" fill="#4a4a4a"/>
<circle cx="490.5" cy="134.8" r="2.1" fill="#4a4a4a"/>
<circle cx="490.5" cy="163.0" r="2.1" fill="#4a4a4a"/>
<circle cx="490.5" cy="247.3" r="2.1" fill="#4a4a4a"/>
<circle cx="490.5" cy="275.4" r="2.1" fill="#4a4a4a"/>
<circle cx="504.5" cy="64.5" r="2.1" fill="#4a4a4a"/>
<circle cx="504.5" cy="120.8" r="2.1" fill="#4a4a4a"/>
<circle cx="504.5" cy="148.9" r="2.1" fill="#4a4a4a"/>
<circle cx="504.5" cy="177.0" r="2.1" fill="#4a4a4a"/>
<circle cx="504.5" cy="233.2" r="2.1" fill="#4a4a4a"/>
<circle cx="504.5" cy="261.4" r="2.1" fill="#4a4a4a"/>
<circle cx="504.5" cy="289.5" r="2.1" fill="#4a4a4a"/>
<circle cx="518.6" cy="78.6" r="2.1" fill="#4a4a4a"/>
<circle cx="518.6" cy="106.7" r="2.1" fill="#4a4a4a"/>
<circle cx="518.6" cy="134.8" r="2.1" fill="#4a4a4a"/>
<circle cx="518.6" cy="163.0" r="2.1" fill="#4a4a4a"/>
<circle cx="518.6" cy="191.1" r="2.1" fill="#4a4a4a"/>
<circle cx="518.6" cy="219.2" r="2.1" fill="#4a4a4a"/>
<circle cx="518.6" cy="247.3" r="2.1" fill="#4a4a4a"/>
<circle cx="518.6" cy="275.4" r="2.1" fill="#4a4a4a"/>
<circle cx="532.6" cy="8.3" r="2.1" fill="#4a4a4a"/>
<circle cx="532.6" cy="36.4" r="2.1" fill="#4a4a4a"/>
<circle cx="532.6" cy="120.8" r="2.1" fill="#4a4a4a"/>
<circle cx="532.6" cy="148.9" r="2.1" fill="#4a4a4a"/>
<circle cx="532.6" cy="177.0" r="2.1" fill="#4a4a4a"/>
<circle cx="532.6" cy="205.1" r="2.1" fill="#4a4a4a"/>
<circle cx="532.6" cy="289.5" r="2.1" fill="#4a4a4a"/>
<circle cx="546.7" cy="22.4" r="2.1" fill="#4a4a4a"/>
<circle cx="546.7" cy="50.5" r="2.1" fill="#4a4a4a"/>
<circle cx="546.7" cy="134.8" r="2.1" fill="#4a4a4a"/>
<circle cx="546.7" cy="163.0" r="2.1" fill="#4a4a4a"/>
<circle cx="546.7" cy="191.1" r="2.1" fill="#4a4a4a"/>
<circle cx="546.7" cy="275.4" r="2.1" fill="#4a4a4a"/>
<circle cx="560.7" cy="36.4" r="2.1" fill="#4a4a4a"/>
<circle cx="560.7" cy="120.8" r="2.1" fill="#4a4a4a"/>
<circle cx="560.7" cy="148.9" r="2.1" fill="#4a4a4a"/>
<circle cx="560.7" cy="177.0" r="2.1" fill="#4a4a4a"/>
<circle cx="560.7" cy="205.1" r="2.1" fill="#4a4a4a"/>
<circle cx="560.7" cy="289.5" r="2.1" fill="#4a4a4a"/>
<circle cx="574.7" cy="134.8" r="2.1" fill="#4a4a4a"/>
<circle cx="574.7" cy="163.0" r="2.1" fill="#4a4a4a"/>
<circle cx="574.7" cy="191.1" r="2.1" fill="#4a4a4a"/>
<circle cx="574.7" cy="219.2" r="2.1" fill="#4a4a4a"/>
<circle cx="588.8" cy="148.9" r="2.1" fill="#4a4a4a"/>
<circle cx="588.8" cy="177.0" r="2.1" fill="#4a4a4a"/>
<circle cx="588.8" cy="205.1" r="2.1" fill="#4a4a4a"/>
<circle cx="588.8" cy="233.2" r="2.1" fill="#4a4a4a"/>
<circle cx="602.8" cy="219.2" r="2.1" fill="#4a4a4a"/>
<polyline fill="none" stroke="#000" stroke-width="1.3" points="86.0,0.0 84.5,12.0 81.5,26.0 76.5,40.0 71.0,55.0 66.5,68.0 62.8,80.4 57.6,92.8 52.6,98.0 47.0,112.0 40.2,127.8 34.5,139.1 30.0,152.7 27.0,158.0 24.0,170.0 20.0,183.0 18.0,188.5 15.5,199.0 13.1,209.6 10.0,218.5 6.9,227.1 2.9,225.4 2.9,242.3 1.2,250.2 0.0,256.0"/>
<polyline fill="none" stroke="#000" stroke-width="1.3" points="588.0,0.0 590.5,10.0 593.0,17.0 596.5,27.0 599.5,34.0 603.8,37.6 606.0,45.0 607.7,51.6 610.0,58.0 611.8,64.7 613.5,76.7 618.3,85.1 622.7,96.3 624.0,105.0 625.2,114.4 628.0,135.3 630.3,142.3 634.4,149.3 636.2,152.0"/>
<polyline fill="none" stroke="#000" stroke-width="1.3" points="614.0,0.0 615.5,8.0 618.3,19.5 621.0,26.5 624.4,33.5 630.8,44.6 635.0,53.0 636.2,55.0"/>
<polygon fill="none" stroke="#000" stroke-width="1.1" points="592.3,67.5 599.3,78.7"/>
<polygon fill="none" stroke="#000" stroke-width="1.1" points="609.3,106.0 606.5,110.2 614.4,133.4 615.1,122.6"/>
<polygon fill="none" stroke="#000" stroke-width="1.1" points="624.4,178.9 621.8,180.9 625.7,203.6 630.1,201.6"/>
</g>
<rect x="0" y="0" width="635.5" height="302.8" fill="none" stroke="#000" stroke-width="2.6"/>
<line x1="-5.8" y1="0.0" x2="0" y2="0.0" stroke="#000" stroke-width="1.4"/>
<line x1="-11.5" y1="30.3" x2="0" y2="30.3" stroke="#000" stroke-width="2.7"/>
<line x1="-5.8" y1="60.6" x2="0" y2="60.6" stroke="#000" stroke-width="1.4"/>
<line x1="-11.5" y1="90.8" x2="0" y2="90.8" stroke="#000" stroke-width="2.7"/>
<line x1="-5.8" y1="121.1" x2="0" y2="121.1" stroke="#000" stroke-width="1.4"/>
<line x1="-11.5" y1="151.4" x2="0" y2="151.4" stroke="#000" stroke-width="2.7"/>
<line x1="-5.8" y1="181.7" x2="0" y2="181.7" stroke="#000" stroke-width="1.4"/>
<line x1="-11.5" y1="212.0" x2="0" y2="212.0" stroke="#000" stroke-width="2.7"/>
<line x1="-5.8" y1="242.2" x2="0" y2="242.2" stroke="#000" stroke-width="1.4"/>
<line x1="-11.5" y1="272.5" x2="0" y2="272.5" stroke="#000" stroke-width="2.7"/>
<line x1="-5.8" y1="302.8" x2="0" y2="302.8" stroke="#000" stroke-width="1.4"/>
<line x1="0.0" y1="302.8" x2="0.0" y2="308.6" stroke="#000" stroke-width="1.4"/>
<line x1="53.0" y1="302.8" x2="53.0" y2="314.3" stroke="#000" stroke-width="2.7"/>
<line x1="106.0" y1="302.8" x2="106.0" y2="308.6" stroke="#000" stroke-width="1.4"/>
<line x1="159.1" y1="302.8" x2="159.1" y2="314.3" stroke="#000" stroke-width="2.7"/>
<line x1="212.1" y1="302.8" x2="212.1" y2="308.6" stroke="#000" stroke-width="1.4"/>
<line x1="265.1" y1="302.8" x2="265.1" y2="314.3" stroke="#000" stroke-width="2.7"/>
<line x1="318.1" y1="302.8" x2="318.1" y2="308.6" stroke="#000" stroke-width="1.4"/>
<line x1="371.1" y1="302.8" x2="371.1" y2="314.3" stroke="#000" stroke-width="2.7"/>
<line x1="424.1" y1="302.8" x2="424.1" y2="308.6" stroke="#000" stroke-width="1.4"/>
<line x1="477.2" y1="302.8" x2="477.2" y2="314.3" stroke="#000" stroke-width="2.7"/>
<line x1="530.2" y1="302.8" x2="530.2" y2="308.6" stroke="#000" stroke-width="1.4"/>
<line x1="583.2" y1="302.8" x2="583.2" y2="314.3" stroke="#000" stroke-width="2.7"/>
<line x1="636.2" y1="302.8" x2="636.2" y2="308.6" stroke="#000" stroke-width="1.4"/>
<text transform="translate(10.7,-10.8) scale(1,1.030)" font-size="29.2" font-weight="bold">B</text>
<text transform="translate(49.6,-8.6) scale(1,1.050)" font-size="33.0">CMIP5-OBS</text>
</g>
<g transform="translate(81.6,403.5)">
<clipPath id="cpC"><rect x="0" y="0" width="636.2" height="302.8"/></clipPath>
<g clip-path="url(#cpC)">
<polygon fill="#dbeffc" points="95.4,-1.7 119.0,-1.7 106.3,19.2"/>
<polygon fill="#dbeffc" points="84.6,30.1 87.3,30.1 87.3,31.9 84.6,31.9"/>
<polygon fill="#dbeffc" points="51.9,152.5 61.0,141.6 73.7,137.1 83.7,147.1 87.3,152.5 87.3,151.3 83.7,159.5 74.6,168.5 61.9,160.4 52.8,149.5"/>
<polygon fill="#dbeffc" points="253.0,60.9 264.8,30.1 292.0,20.1 317.4,16.5 335.5,18.3 350.0,21.9 356.4,31.0 350.0,57.3 339.1,54.5 328.3,61.8 308.3,75.4 292.0,78.1 264.8,76.3 255.7,67.2"/>
<polygon fill="#77c0d6" points="295.6,31.0 313.7,25.5 330.1,27.3 341.0,31.0 350.0,30.4 341.0,32.8 328.3,40.0 317.4,44.0 306.5,45.1 299.2,36.4"/>
<polygon fill="#dbeffc" points="194.0,121.7 203.1,109.0 221.2,95.4 235.7,94.5 253.9,98.1 275.7,107.1 288.4,121.7 299.2,128.9 317.4,136.2 339.1,146.1 350.0,138.0 360.9,116.2 371.8,98.1 382.7,87.2 391.7,79.9 402.6,85.4 411.7,102.6 426.2,108.1 444.9,109.9 466.7,109.0 483.0,112.6 508.4,121.7 526.5,123.5 541.0,119.8 551.9,118.4 562.8,130.7 569.1,152.5 568.2,149.5 573.7,171.3 582.7,193.0 591.8,207.5 603.6,229.3 615.4,238.4 625.4,241.1 629.9,251.1 634.4,262.0 634.4,301.5 628.1,292.8 617.2,283.7 610.0,274.7 604.5,260.1 588.2,256.5 570.0,251.1 551.9,242.0 539.2,235.7 519.3,231.1 499.3,225.7 483.0,218.4 463.0,209.4 444.9,203.0 426.7,194.8 412.2,184.0 403.2,176.7 393.2,176.7 382.7,188.5 371.8,198.5 360.9,204.8 350.0,203.9 335.5,193.9 317.4,186.7 306.5,182.2 288.4,173.1 263.0,163.1 235.7,155.8 219.4,150.4 214.0,145.2 201.3,132.5"/>
<polygon fill="#dbeffc" points="253.3,60.0 255.4,55.5 257.8,60.0 255.4,67.2"/>
<polygon fill="#77c0d6" points="365.4,152.5 370.0,121.7 379.0,112.6 391.7,103.2 402.6,108.1 409.9,121.7 413.5,138.0 435.3,128.9 434.0,128.9 454.0,129.8 475.7,132.5 497.5,138.0 519.3,147.1 532.0,152.5 526.5,149.5 535.6,156.8 542.8,165.8 549.2,182.2 541.0,201.2 530.1,211.2 519.3,214.4 506.6,213.9 490.2,207.5 475.7,202.1 454.0,197.6 434.0,191.2 424.9,182.2 413.1,159.5 399.5,163.1 382.7,171.3 371.8,185.8 360.9,193.9 350.0,188.5 342.8,182.2 350.0,157.7 360.9,163.1 366.3,149.5"/>
<polygon fill="#3d91c8" points="375.4,152.5 381.8,139.8 391.7,136.5 397.2,143.4 400.8,152.5 400.8,149.5 399.0,152.2 382.7,155.8 376.3,149.5"/>
<polygon fill="#3d91c8" points="444.3,181.8 449.4,171.3 455.8,162.2 466.7,161.8 483.0,164.9 499.3,168.5 512.0,174.9 521.1,181.8 509.3,188.5 497.5,187.6 483.0,185.8 463.0,184.0"/>
<polygon fill="#3d91c8" points="357.3,181.8 360.9,179.4 363.6,182.2 360.0,184.0"/>
<polygon fill="#dbeffc" points="21.1,222.1 22.9,232.0 26.5,242.2 25.6,251.1 19.3,267.4 11.1,291.0 5.7,272.5 10.7,272.5 10.7,242.2 21.4,242.2 21.4,232.9"/>
<polygon fill="#77c0d6" points="10.7,242.2 21.4,242.2 22.9,236.6 24.7,242.9 22.0,251.1 16.5,265.6 10.7,279.2 8.4,273.8 10.7,272.5"/>
<polygon fill="#3d91c8" points="10.7,242.9 20.2,242.9 17.4,251.1 10.7,260.1"/>
<polygon fill="#dbeffc" points="27.4,303.7 34.7,287.4 49.2,272.8 61.9,262.0 74.6,256.5 85.5,258.3 100.0,262.9 118.1,265.6 132.6,267.4 138.1,272.8 139.0,303.7"/>
<polygon fill="#77c0d6" points="33.8,303.7 41.9,289.2 52.8,276.5 67.3,267.4 76.4,265.6 92.7,268.3 103.6,276.5 114.5,292.8 117.2,303.7"/>
<polygon fill="#3d91c8" points="40.1,303.7 45.6,292.8 52.8,288.3 60.1,292.8 64.6,303.7"/>
<polygon fill="#3d91c8" points="83.7,303.7 94.5,297.3 100.0,303.7"/>
<polygon fill="#dbeffc" points="176.2,269.2 179.8,262.0 197.9,260.1 208.8,262.9 208.5,263.8 226.7,269.2 244.8,276.5 263.0,283.7 281.1,291.0 299.2,297.3 308.3,303.7 181.6,303.7 178.9,287.4"/>
<polygon fill="#77c0d6" points="179.8,272.8 188.9,266.5 199.7,267.4 208.8,274.7 210.4,274.7 219.4,285.5 232.1,294.6 244.8,303.7 187.0,303.7 181.6,287.4"/>
<polygon fill="#3d91c8" points="188.9,303.7 189.8,272.8 199.7,278.3 197.7,276.5 204.9,287.4 210.4,294.6 214.0,303.7"/>
<polygon fill="#0d5aa0" points="197.0,303.7 201.6,297.3 204.3,303.7"/>
<polygon fill="#fcdee1" points="196.1,-1.7 172.5,9.2 149.0,10.1 138.1,12.8 125.4,23.7 112.7,40.0 101.8,56.4 95.4,61.8 84.6,48.2 84.6,60.3 74.0,60.3 74.0,90.6 63.7,90.6 63.7,120.9 53.4,120.9 53.4,133.4 65.5,127.1 73.7,122.6 83.7,130.7 94.5,141.6 107.2,146.1 125.4,144.3 143.5,147.1 158.0,151.6 169.8,141.6 177.1,112.6 179.8,90.8 190.7,74.5 207.0,60.0 214.0,41.8 223.1,20.1 233.9,12.8 266.6,11.0 299.2,7.4 317.4,7.4 335.5,11.9 350.0,16.5 360.9,21.9 366.3,31.9 362.7,65.4 360.9,85.4 350.0,83.2 346.4,90.8 339.1,97.2 329.2,99.9 321.0,110.8 315.6,120.8 328.3,128.9 339.1,136.2 346.4,128.9 351.8,119.8 357.3,103.5 360.9,90.8 371.8,76.3 380.9,67.2 388.1,60.9 389.9,30.1 404.4,25.5 423.1,27.3 434.9,23.7 444.0,-1.7"/>
<polygon fill="#f9b9a8" points="367.3,-1.7 371.8,8.3 382.7,13.7 404.4,15.5 403.2,15.5 424.9,14.6 434.9,11.0 439.4,-1.7"/>
<polygon fill="#f9b9a8" points="333.7,-1.7 342.8,4.7 350.0,7.0 356.4,-1.7"/>
<polygon fill="#f59278" points="395.9,-1.7 397.7,1.0 414.1,4.1 428.6,-1.7"/>
<polygon fill="#f9b9a8" points="331.9,120.8 339.1,112.6 343.7,120.8 339.1,126.7"/>
<polygon fill="#f9b9a8" points="138.1,40.4 150.8,45.5 159.8,58.2 162.6,76.3 161.7,103.5 158.9,121.7 149.0,129.8 129.0,131.1 107.2,128.0 93.6,121.7 89.1,103.5 86.4,90.8 96.4,80.8 103.6,67.2 114.5,50.9 125.4,41.8"/>
<polygon fill="#f9b9a8" points="74.6,60.9 81.8,60.9 83.7,90.8 75.5,105.3 63.7,117.1 63.7,90.6 74.0,90.6 74.0,60.9"/>
<polygon fill="#f59278" points="127.2,64.0 138.1,71.8 147.1,90.8 138.1,106.2 125.4,107.5 114.5,104.4 105.4,98.1 102.2,90.8 109.0,78.1 116.3,69.1"/>
<polygon fill="#f59278" points="63.7,90.8 74.6,90.8 77.3,83.6 77.8,92.6 63.7,104.4"/>
<polygon fill="#fcdee1" points="398.6,60.3 424.0,40.0 434.9,42.8 444.9,40.0 456.7,30.1 466.7,25.5 472.1,31.0 479.4,32.8 499.3,31.9 519.3,28.2 541.0,18.3 551.9,20.1 562.8,30.1 558.3,45.5 552.8,60.0 541.0,70.9 526.5,90.8 521.1,95.4 508.4,97.2 497.5,94.5 483.0,87.2 466.7,84.5 455.8,86.3 444.9,91.7 424.0,90.8 414.1,79.9 404.1,63.6"/>
<polygon fill="#fcdee1" points="42.8,170.4 51.0,175.8 61.9,180.3 74.6,183.1 87.3,182.2 96.4,169.5 107.2,160.4 125.4,165.8 141.7,181.2 149.0,184.0 153.5,179.4 158.9,154.0 179.8,158.6 216.1,164.9 235.7,167.6 263.0,176.7 288.4,187.6 306.5,196.7 317.4,202.1 331.9,209.4 341.0,216.6 350.0,224.2 360.9,222.1 365.4,213.0 379.0,202.1 391.7,191.2 402.6,191.2 413.5,202.1 426.2,211.2 426.7,211.2 444.9,223.9 463.0,229.3 483.0,234.8 499.3,242.0 519.3,251.1 539.2,262.0 551.9,269.2 562.8,283.7 573.7,292.8 586.4,303.7 441.3,303.7 434.0,295.5 424.0,289.7 414.1,296.4 412.2,303.7 325.5,303.7 322.8,292.8 317.4,281.9 306.5,276.5 288.4,272.8 263.0,267.4 235.7,261.1 208.5,256.5 190.7,256.5 179.8,258.3 177.1,267.4 172.5,276.5 175.3,291.0 178.0,303.7 152.6,303.7 147.1,280.1 141.7,262.0 138.1,251.1 125.4,249.3 107.2,248.4 74.6,247.5 60.1,254.7 41.9,262.0 32.0,269.2 25.6,280.1 21.1,291.0 20.2,274.7 23.8,260.1 32.0,243.8 29.2,212.1 32.0,212.1 32.0,181.6 42.8,181.6"/>
<polygon fill="#fcdee1" points="143.5,149.5 152.6,151.0 159.8,149.5"/>
<polygon fill="#ffffff" points="149.3,241.6 158.9,232.4 168.9,236.6 173.4,242.0 169.8,258.3 158.0,252.9"/>
<polygon fill="#f9b9a8" points="41.0,193.9 51.9,188.5 61.9,192.1 74.6,197.6 87.3,193.0 107.2,184.9 116.3,184.9 125.4,191.2 136.3,201.2 149.0,207.5 158.0,203.0 167.1,188.5 179.8,173.1 190.7,170.4 216.1,175.8 235.7,181.2 263.0,190.3 288.4,200.3 306.5,207.5 315.6,212.1 321.0,225.7 328.3,241.1 317.4,253.8 306.5,254.7 288.4,256.5 263.0,254.7 235.7,249.3 208.5,243.8 197.9,248.4 188.9,245.6 179.8,236.6 170.7,225.7 161.7,218.4 149.0,216.6 136.3,223.9 125.4,234.8 114.5,243.8 107.2,245.6 96.4,244.7 74.6,234.8 61.9,243.8 52.8,251.1 41.9,253.8 34.7,242.0 37.4,209.4"/>
<polygon fill="#f9b9a8" points="370.9,242.0 375.4,225.7 380.0,212.1 391.7,206.1 402.6,207.2 409.9,213.0 415.3,225.7 423.1,233.8 434.0,238.4 454.0,240.2 472.1,242.0 477.5,251.1 486.6,260.1 499.3,266.5 520.2,271.9 524.7,285.5 529.2,303.7 511.1,303.7 499.3,289.2 486.6,282.8 470.3,274.7 464.8,268.3 455.8,252.9 435.8,248.4 417.7,251.1 399.5,252.5 386.3,251.1 375.4,246.5"/>
<polygon fill="#f9b9a8" points="339.1,303.7 350.0,292.4 358.2,303.7"/>
<polygon fill="#f9b9a8" points="156.2,272.8 158.9,270.7 162.6,273.8 158.9,280.5"/>
<polygon fill="#f59278" points="42.8,203.9 51.9,198.5 61.9,203.9 74.6,209.4 87.3,207.5 100.0,203.0 109.0,200.3 118.1,205.7 123.6,212.1 118.1,219.3 109.0,227.5 96.4,227.5 87.3,221.1 74.6,216.6 61.9,229.3 56.4,243.8 51.0,245.6 41.9,242.9 40.1,222.1"/>
<polygon fill="#f59278" points="166.2,211.2 174.3,198.5 179.8,188.5 190.7,183.1 207.0,188.5 234.2,195.8 235.7,195.8 263.0,204.8 286.5,212.1 289.3,241.1 281.1,242.9 270.2,242.0 263.0,237.5 252.1,237.5 243.9,238.7 235.7,236.6 223.1,230.2 208.5,229.3 207.0,233.8 190.7,241.1 183.4,231.1 172.5,220.2"/>
<polygon fill="#f06c4f" points="50.1,210.3 55.5,209.4 60.1,213.0 52.8,222.1"/>
<polygon fill="#f06c4f" points="177.1,212.1 179.8,207.5 190.7,200.8 199.7,203.0 208.8,209.4 219.7,211.5 221.2,211.5 243.0,212.1 221.2,213.3 208.8,214.8 199.7,220.2 190.7,223.9 185.2,219.3"/>
<polygon fill="#d2d2d2" points="86.0,0.0 84.5,12.0 81.5,26.0 76.5,40.0 71.0,55.0 66.5,68.0 62.8,80.4 57.6,92.8 52.6,98.0 47.0,112.0 40.2,127.8 34.5,139.1 30.0,152.7 27.0,158.0 24.0,170.0 20.0,183.0 18.0,188.5 15.5,199.0 13.1,209.6 10.0,218.5 6.9,227.1 2.9,225.4 2.9,242.3 1.2,250.2 0.0,256.0 0.0,0.0"/>
<polygon fill="#d2d2d2" points="588.0,0.0 590.5,10.0 593.0,17.0 596.5,27.0 599.5,34.0 603.8,37.6 606.0,45.0 607.7,51.6 610.0,58.0 611.8,64.7 613.5,76.7 618.3,85.1 622.7,96.3 624.0,105.0 625.2,114.4 628.0,135.3 630.3,142.3 634.4,149.3 636.2,152.0 636.2,55.0 636.2,55.0 635.0,53.0 630.8,44.6 624.4,33.5 621.0,26.5 618.3,19.5 615.5,8.0 614.0,0.0"/>
<circle cx="23.9" cy="258.8" r="2.1" fill="#4a4a4a"/>
<circle cx="52.0" cy="202.6" r="2.1" fill="#4a4a4a"/>
<circle cx="52.0" cy="230.7" r="2.1" fill="#4a4a4a"/>
<circle cx="52.0" cy="258.8" r="2.1" fill="#4a4a4a"/>
<circle cx="52.0" cy="287.0" r="2.1" fill="#4a4a4a"/>
<circle cx="66.0" cy="160.4" r="2.1" fill="#4a4a4a"/>
<circle cx="66.0" cy="216.6" r="2.1" fill="#4a4a4a"/>
<circle cx="66.0" cy="244.8" r="2.1" fill="#4a4a4a"/>
<circle cx="66.0" cy="272.9" r="2.1" fill="#4a4a4a"/>
<circle cx="66.0" cy="301.0" r="2.1" fill="#4a4a4a"/>
<circle cx="80.1" cy="230.7" r="2.1" fill="#4a4a4a"/>
<circle cx="80.1" cy="258.8" r="2.1" fill="#4a4a4a"/>
<circle cx="80.1" cy="287.0" r="2.1" fill="#4a4a4a"/>
<circle cx="94.1" cy="216.6" r="2.1" fill="#4a4a4a"/>
<circle cx="94.1" cy="244.8" r="2.1" fill="#4a4a4a"/>
<circle cx="94.1" cy="272.9" r="2.1" fill="#4a4a4a"/>
<circle cx="94.1" cy="301.0" r="2.1" fill="#4a4a4a"/>
<circle cx="108.2" cy="62.0" r="2.1" fill="#4a4a4a"/>
<circle cx="108.2" cy="90.1" r="2.1" fill="#4a4a4a"/>
<circle cx="108.2" cy="118.2" r="2.1" fill="#4a4a4a"/>
<circle cx="108.2" cy="202.6" r="2.1" fill="#4a4a4a"/>
<circle cx="108.2" cy="230.7" r="2.1" fill="#4a4a4a"/>
<circle cx="108.2" cy="258.8" r="2.1" fill="#4a4a4a"/>
<circle cx="108.2" cy="287.0" r="2.1" fill="#4a4a4a"/>
<circle cx="122.2" cy="47.9" r="2.1" fill="#4a4a4a"/>
<circle cx="122.2" cy="76.1" r="2.1" fill="#4a4a4a"/>
<circle cx="122.2" cy="104.2" r="2.1" fill="#4a4a4a"/>
<circle cx="122.2" cy="188.5" r="2.1" fill="#4a4a4a"/>
<circle cx="122.2" cy="216.6" r="2.1" fill="#4a4a4a"/>
<circle cx="122.2" cy="244.8" r="2.1" fill="#4a4a4a"/>
<circle cx="122.2" cy="272.9" r="2.1" fill="#4a4a4a"/>
<circle cx="122.2" cy="301.0" r="2.1" fill="#4a4a4a"/>
<circle cx="136.3" cy="33.9" r="2.1" fill="#4a4a4a"/>
<circle cx="136.3" cy="62.0" r="2.1" fill="#4a4a4a"/>
<circle cx="136.3" cy="90.1" r="2.1" fill="#4a4a4a"/>
<circle cx="136.3" cy="118.2" r="2.1" fill="#4a4a4a"/>
<circle cx="136.3" cy="230.7" r="2.1" fill="#4a4a4a"/>
<circle cx="150.3" cy="47.9" r="2.1" fill="#4a4a4a"/>
<circle cx="150.3" cy="76.1" r="2.1" fill="#4a4a4a"/>
<circle cx="150.3" cy="104.2" r="2.1" fill="#4a4a4a"/>
<circle cx="164.3" cy="33.9" r="2.1" fill="#4a4a4a"/>
<circle cx="164.3" cy="62.0" r="2.1" fill="#4a4a4a"/>
<circle cx="164.3" cy="90.1" r="2.1" fill="#4a4a4a"/>
<circle cx="164.3" cy="202.6" r="2.1" fill="#4a4a4a"/>
<circle cx="178.4" cy="47.9" r="2.1" fill="#4a4a4a"/>
<circle cx="178.4" cy="76.1" r="2.1" fill="#4a4a4a"/>
<circle cx="178.4" cy="188.5" r="2.1" fill="#4a4a4a"/>
<circle cx="178.4" cy="216.6" r="2.1" fill="#4a4a4a"/>
<circle cx="192.4" cy="33.9" r="2.1" fill="#4a4a4a"/>
<circle cx="192.4" cy="202.6" r="2.1" fill="#4a4a4a"/>
<circle cx="192.4" cy="230.7" r="2.1" fill="#4a4a4a"/>
<circle cx="192.4" cy="258.8" r="2.1" fill="#4a4a4a"/>
<circle cx="192.4" cy="287.0" r="2.1" fill="#4a4a4a"/>
<circle cx="206.5" cy="188.5" r="2.1" fill="#4a4a4a"/>
<circle cx="206.5" cy="216.6" r="2.1" fill="#4a4a4a"/>
<circle cx="206.5" cy="244.8" r="2.1" fill="#4a4a4a"/>
<circle cx="206.5" cy="272.9" r="2.1" fill="#4a4a4a"/>
<circle cx="206.5" cy="301.0" r="2.1" fill="#4a4a4a"/>
<circle cx="220.5" cy="202.6" r="2.1" fill="#4a4a4a"/>
<circle cx="220.5" cy="230.7" r="2.1" fill="#4a4a4a"/>
<circle cx="220.5" cy="258.8" r="2.1" fill="#4a4a4a"/>
<circle cx="220.5" cy="287.0" r="2.1" fill="#4a4a4a"/>
<circle cx="234.6" cy="188.5" r="2.1" fill="#4a4a4a"/>
<circle cx="234.6" cy="216.6" r="2.1" fill="#4a4a4a"/>
<circle cx="234.6" cy="244.8" r="2.1" fill="#4a4a4a"/>
<circle cx="234.6" cy="301.0" r="2.1" fill="#4a4a4a"/>
<circle cx="248.6" cy="202.6" r="2.1" fill="#4a4a4a"/>
<circle cx="248.6" cy="230.7" r="2.1" fill="#4a4a4a"/>
<circle cx="262.6" cy="19.8" r="2.1" fill="#4a4a4a"/>
<circle cx="262.6" cy="216.6" r="2.1" fill="#4a4a4a"/>
<circle cx="276.7" cy="5.8" r="2.1" fill="#4a4a4a"/>
<circle cx="276.7" cy="33.9" r="2.1" fill="#4a4a4a"/>
<circle cx="276.7" cy="230.7" r="2.1" fill="#4a4a4a"/>
<circle cx="290.7" cy="19.8" r="2.1" fill="#4a4a4a"/>
<circle cx="290.7" cy="47.9" r="2.1" fill="#4a4a4a"/>
<circle cx="290.7" cy="216.6" r="2.1" fill="#4a4a4a"/>
<circle cx="290.7" cy="244.8" r="2.1" fill="#4a4a4a"/>
<circle cx="290.7" cy="301.0" r="2.1" fill="#4a4a4a"/>
<circle cx="304.8" cy="5.8" r="2.1" fill="#4a4a4a"/>
<circle cx="304.8" cy="33.9" r="2.1" fill="#4a4a4a"/>
<circle cx="304.8" cy="230.7" r="2.1" fill="#4a4a4a"/>
<circle cx="304.8" cy="258.8" r="2.1" fill="#4a4a4a"/>
<circle cx="304.8" cy="287.0" r="2.1" fill="#4a4a4a"/>
<circle cx="318.8" cy="19.8" r="2.1" fill="#4a4a4a"/>
<circle cx="318.8" cy="47.9" r="2.1" fill="#4a4a4a"/>
<circle cx="318.8" cy="216.6" r="2.1" fill="#4a4a4a"/>
<circle cx="318.8" cy="244.8" r="2.1" fill="#4a4a4a"/>
<circle cx="318.8" cy="272.9" r="2.1" fill="#4a4a4a"/>
<circle cx="332.9" cy="5.8" r="2.1" fill="#4a4a4a"/>
<circle cx="332.9" cy="174.5" r="2.1" fill="#4a4a4a"/>
<circle cx="332.9" cy="202.6" r="2.1" fill="#4a4a4a"/>
<circle cx="332.9" cy="230.7" r="2.1" fill="#4a4a4a"/>
<circle cx="332.9" cy="258.8" r="2.1" fill="#4a4a4a"/>
<circle cx="332.9" cy="287.0" r="2.1" fill="#4a4a4a"/>
<circle cx="346.9" cy="19.8" r="2.1" fill="#4a4a4a"/>
<circle cx="346.9" cy="188.5" r="2.1" fill="#4a4a4a"/>
<circle cx="346.9" cy="244.8" r="2.1" fill="#4a4a4a"/>
<circle cx="346.9" cy="272.9" r="2.1" fill="#4a4a4a"/>
<circle cx="346.9" cy="301.0" r="2.1" fill="#4a4a4a"/>
<circle cx="361.0" cy="258.8" r="2.1" fill="#4a4a4a"/>
<circle cx="361.0" cy="287.0" r="2.1" fill="#4a4a4a"/>
<circle cx="375.0" cy="19.8" r="2.1" fill="#4a4a4a"/>
<circle cx="375.0" cy="132.3" r="2.1" fill="#4a4a4a"/>
<circle cx="375.0" cy="160.4" r="2.1" fill="#4a4a4a"/>
<circle cx="375.0" cy="216.6" r="2.1" fill="#4a4a4a"/>
<circle cx="375.0" cy="244.8" r="2.1" fill="#4a4a4a"/>
<circle cx="375.0" cy="301.0" r="2.1" fill="#4a4a4a"/>
<circle cx="389.0" cy="118.2" r="2.1" fill="#4a4a4a"/>
<circle cx="389.0" cy="146.4" r="2.1" fill="#4a4a4a"/>
<circle cx="389.0" cy="230.7" r="2.1" fill="#4a4a4a"/>
<circle cx="403.1" cy="132.3" r="2.1" fill="#4a4a4a"/>
<circle cx="403.1" cy="216.6" r="2.1" fill="#4a4a4a"/>
<circle cx="417.1" cy="202.6" r="2.1" fill="#4a4a4a"/>
<circle cx="417.1" cy="230.7" r="2.1" fill="#4a4a4a"/>
<circle cx="431.2" cy="160.4" r="2.1" fill="#4a4a4a"/>
<circle cx="431.2" cy="188.5" r="2.1" fill="#4a4a4a"/>
<circle cx="445.2" cy="174.5" r="2.1" fill="#4a4a4a"/>
<circle cx="445.2" cy="258.8" r="2.1" fill="#4a4a4a"/>
<circle cx="459.3" cy="47.9" r="2.1" fill="#4a4a4a"/>
<circle cx="459.3" cy="160.4" r="2.1" fill="#4a4a4a"/>
<circle cx="459.3" cy="244.8" r="2.1" fill="#4a4a4a"/>
<circle cx="459.3" cy="272.9" r="2.1" fill="#4a4a4a"/>
<circle cx="473.3" cy="174.5" r="2.1" fill="#4a4a4a"/>
<circle cx="473.3" cy="230.7" r="2.1" fill="#4a4a4a"/>
<circle cx="473.3" cy="258.8" r="2.1" fill="#4a4a4a"/>
<circle cx="473.3" cy="287.0" r="2.1" fill="#4a4a4a"/>
<circle cx="487.3" cy="160.4" r="2.1" fill="#4a4a4a"/>
<circle cx="487.3" cy="188.5" r="2.1" fill="#4a4a4a"/>
<circle cx="487.3" cy="216.6" r="2.1" fill="#4a4a4a"/>
<circle cx="487.3" cy="244.8" r="2.1" fill="#4a4a4a"/>
<circle cx="487.3" cy="272.9" r="2.1" fill="#4a4a4a"/>
<circle cx="487.3" cy="301.0" r="2.1" fill="#4a4a4a"/>
<circle cx="501.4" cy="62.0" r="2.1" fill="#4a4a4a"/>
<circle cx="501.4" cy="90.1" r="2.1" fill="#4a4a4a"/>
<circle cx="501.4" cy="174.5" r="2.1" fill="#4a4a4a"/>
<circle cx="501.4" cy="202.6" r="2.1" fill="#4a4a4a"/>
<circle cx="501.4" cy="287.0" r="2.1" fill="#4a4a4a"/>
<circle cx="515.4" cy="47.9" r="2.1" fill="#4a4a4a"/>
<circle cx="515.4" cy="76.1" r="2.1" fill="#4a4a4a"/>
<circle cx="515.4" cy="160.4" r="2.1" fill="#4a4a4a"/>
<circle cx="515.4" cy="188.5" r="2.1" fill="#4a4a4a"/>
<circle cx="515.4" cy="272.9" r="2.1" fill="#4a4a4a"/>
<circle cx="515.4" cy="301.0" r="2.1" fill="#4a4a4a"/>
<circle cx="529.5" cy="33.9" r="2.1" fill="#4a4a4a"/>
<circle cx="529.5" cy="62.0" r="2.1" fill="#4a4a4a"/>
<circle cx="529.5" cy="174.5" r="2.1" fill="#4a4a4a"/>
<circle cx="529.5" cy="202.6" r="2.1" fill="#4a4a4a"/>
<circle cx="529.5" cy="287.0" r="2.1" fill="#4a4a4a"/>
<circle cx="543.5" cy="47.9" r="2.1" fill="#4a4a4a"/>
<circle cx="543.5" cy="160.4" r="2.1" fill="#4a4a4a"/>
<circle cx="543.5" cy="188.5" r="2.1" fill="#4a4a4a"/>
<circle cx="543.5" cy="301.0" r="2.1" fill="#4a4a4a"/>
<circle cx="557.6" cy="33.9" r="2.1" fill="#4a4a4a"/>
<circle cx="557.6" cy="174.5" r="2.1" fill="#4a4a4a"/>
<circle cx="557.6" cy="202.6" r="2.1" fill="#4a4a4a"/>
<circle cx="557.6" cy="230.7" r="2.1" fill="#4a4a4a"/>
<circle cx="571.6" cy="188.5" r="2.1" fill="#4a4a4a"/>
<circle cx="571.6" cy="216.6" r="2.1" fill="#4a4a4a"/>
<circle cx="585.6" cy="230.7" r="2.1" fill="#4a4a4a"/>
<circle cx="613.7" cy="258.8" r="2.1" fill="#4a4a4a"/>
<circle cx="627.8" cy="216.6" r="2.1" fill="#4a4a4a"/>
<circle cx="627.8" cy="272.9" r="2.1" fill="#4a4a4a"/>
<polyline fill="none" stroke="#000" stroke-width="1.3" points="86.0,0.0 84.5,12.0 81.5,26.0 76.5,40.0 71.0,55.0 66.5,68.0 62.8,80.4 57.6,92.8 52.6,98.0 47.0,112.0 40.2,127.8 34.5,139.1 30.0,152.7 27.0,158.0 24.0,170.0 20.0,183.0 18.0,188.5 15.5,199.0 13.1,209.6 10.0,218.5 6.9,227.1 2.9,225.4 2.9,242.3 1.2,250.2 0.0,256.0"/>
<polyline fill="none" stroke="#000" stroke-width="1.3" points="588.0,0.0 590.5,10.0 593.0,17.0 596.5,27.0 599.5,34.0 603.8,37.6 606.0,45.0 607.7,51.6 610.0,58.0 611.8,64.7 613.5,76.7 618.3,85.1 622.7,96.3 624.0,105.0 625.2,114.4 628.0,135.3 630.3,142.3 634.4,149.3 636.2,152.0"/>
<polyline fill="none" stroke="#000" stroke-width="1.3" points="614.0,0.0 615.5,8.0 618.3,19.5 621.0,26.5 624.4,33.5 630.8,44.6 635.0,53.0 636.2,55.0"/>
<polygon fill="none" stroke="#000" stroke-width="1.1" points="592.3,67.5 599.3,78.7"/>
<polygon fill="none" stroke="#000" stroke-width="1.1" points="609.3,106.0 606.5,110.2 614.4,133.4 615.1,122.6"/>
<polygon fill="none" stroke="#000" stroke-width="1.1" points="624.4,178.9 621.8,180.9 625.7,203.6 630.1,201.6"/>
</g>
<rect x="0" y="0" width="636.2" height="302.8" fill="none" stroke="#000" stroke-width="2.6"/>
<line x1="-5.8" y1="0.0" x2="0" y2="0.0" stroke="#000" stroke-width="1.4"/>
<line x1="-11.5" y1="30.3" x2="0" y2="30.3" stroke="#000" stroke-width="2.7"/>
<line x1="-5.8" y1="60.6" x2="0" y2="60.6" stroke="#000" stroke-width="1.4"/>
<line x1="-11.5" y1="90.8" x2="0" y2="90.8" stroke="#000" stroke-width="2.7"/>
<line x1="-5.8" y1="121.1" x2="0" y2="121.1" stroke="#000" stroke-width="1.4"/>
<line x1="-11.5" y1="151.4" x2="0" y2="151.4" stroke="#000" stroke-width="2.7"/>
<line x1="-5.8" y1="181.7" x2="0" y2="181.7" stroke="#000" stroke-width="1.4"/>
<line x1="-11.5" y1="212.0" x2="0" y2="212.0" stroke="#000" stroke-width="2.7"/>
<line x1="-5.8" y1="242.2" x2="0" y2="242.2" stroke="#000" stroke-width="1.4"/>
<line x1="-11.5" y1="272.5" x2="0" y2="272.5" stroke="#000" stroke-width="2.7"/>
<line x1="-5.8" y1="302.8" x2="0" y2="302.8" stroke="#000" stroke-width="1.4"/>
<line x1="0.0" y1="302.8" x2="0.0" y2="308.6" stroke="#000" stroke-width="1.4"/>
<line x1="53.0" y1="302.8" x2="53.0" y2="314.3" stroke="#000" stroke-width="2.7"/>
<line x1="106.0" y1="302.8" x2="106.0" y2="308.6" stroke="#000" stroke-width="1.4"/>
<line x1="159.1" y1="302.8" x2="159.1" y2="314.3" stroke="#000" stroke-width="2.7"/>
<line x1="212.1" y1="302.8" x2="212.1" y2="308.6" stroke="#000" stroke-width="1.4"/>
<line x1="265.1" y1="302.8" x2="265.1" y2="314.3" stroke="#000" stroke-width="2.7"/>
<line x1="318.1" y1="302.8" x2="318.1" y2="308.6" stroke="#000" stroke-width="1.4"/>
<line x1="371.1" y1="302.8" x2="371.1" y2="314.3" stroke="#000" stroke-width="2.7"/>
<line x1="424.1" y1="302.8" x2="424.1" y2="308.6" stroke="#000" stroke-width="1.4"/>
<line x1="477.2" y1="302.8" x2="477.2" y2="314.3" stroke="#000" stroke-width="2.7"/>
<line x1="530.2" y1="302.8" x2="530.2" y2="308.6" stroke="#000" stroke-width="1.4"/>
<line x1="583.2" y1="302.8" x2="583.2" y2="314.3" stroke="#000" stroke-width="2.7"/>
<line x1="636.2" y1="302.8" x2="636.2" y2="308.6" stroke="#000" stroke-width="1.4"/>
<text transform="translate(9.8,-10.8) scale(1,1.030)" font-size="29.2" font-weight="bold">C</text>
<text transform="translate(51.7,-8.6) scale(1,1.050)" font-size="33.0">CMIP6-OBS</text>
</g>
<g transform="translate(780.6,403.5)">
<clipPath id="cpD"><rect x="0" y="0" width="636.2" height="302.8"/></clipPath>
<g clip-path="url(#cpD)">
<polygon fill="#fcdee1" points="99.4,-1.6 95.7,12.3 85.4,13.6 84.9,30.9 74.3,30.9 74.3,60.7 63.5,60.7 63.5,91.4 52.9,91.4 52.9,121.5 31.5,121.5 31.5,152.8 0.2,153.1 0.2,251.1 5.7,242.9 10.2,271.0 16.5,258.3 23.8,245.6 34.7,222.1 41.9,200.3 52.8,184.0 63.7,176.7 74.6,177.6 83.7,184.9 94.5,194.8 105.4,203.0 118.1,203.0 138.1,200.3 152.6,203.9 170.7,209.4 197.9,211.2 201.3,212.1 235.7,207.9 263.0,207.5 299.2,207.2 317.4,204.8 339.1,198.5 350.0,192.1 360.0,193.9 380.9,181.2 399.5,176.7 423.1,175.8 435.8,177.6 463.0,179.4 490.2,182.2 522.9,188.5 553.7,192.1 571.9,192.1 582.7,189.4 593.6,181.2 596.3,167.6 599.1,149.5 599.1,152.5 590.0,139.8 577.3,128.9 562.8,119.8 544.7,113.5 522.9,107.1 499.3,102.6 475.7,100.3 455.8,101.3 444.9,98.1 434.4,90.8 443.4,60.9 434.4,49.5 423.5,49.5 413.5,56.4 402.6,60.0 389.9,69.1 371.8,79.0 360.9,90.8 350.0,105.3 326.4,105.3 299.2,103.5 272.0,100.8 244.8,99.9 226.7,101.7 230.6,101.7 201.6,106.2 172.5,103.5 136.3,98.1 105.4,90.8 99.1,56.4 101.8,32.8 105.4,20.1 114.5,9.2 118.1,-1.7"/>
<polygon fill="#f9b9a8" points="74.3,30.9 82.7,30.9 84.5,52.3 83.6,65.3 77.1,70.9 73.4,76.5 72.4,89.5 75.2,100.7 80.8,110.0 91.0,123.0 92.9,134.2 103.1,137.0 107.2,137.1 125.4,131.6 152.6,129.8 179.8,132.5 197.9,134.4 225.1,131.6 241.2,132.2 263.0,135.3 284.7,138.9 308.3,143.4 328.3,148.0 340.0,152.5 340.0,151.3 330.1,155.8 313.7,160.4 292.0,165.8 272.0,170.4 252.1,174.0 232.1,179.4 214.0,184.0 201.3,184.0 194.3,182.2 179.8,176.7 167.1,174.0 147.1,172.2 129.0,176.7 116.3,182.2 107.2,176.7 96.4,164.9 83.7,159.5 67.3,160.4 52.8,164.0 42.8,149.5 44.5,150.9 44.5,121.5 52.9,121.5 52.9,91.4 63.5,91.4 63.5,78.4 65.9,74.6 72.4,60.7 74.3,60.7"/>
<polygon fill="#f9b9a8" points="32.0,170.4 38.3,182.2 32.9,203.9 25.6,222.1 16.5,240.2 10.2,255.6 7.5,243.8 12.0,227.5 20.2,211.2 21.1,202.1 25.6,185.8"/>
<polygon fill="#f9b9a8" points="453.0,152.5 464.8,147.1 483.0,143.8 508.4,144.3 530.1,148.0 542.8,152.5 542.8,151.3 519.3,154.9 490.2,155.8 464.8,154.0 453.0,151.3"/>
<polygon fill="#f59278" points="74.3,30.9 79.3,30.9 78.0,43.0 75.2,60.7 74.3,60.7"/>
<polygon fill="#f59278" points="52.9,91.4 64.1,91.4 68.1,104.4 72.4,120.2 64.1,139.8 52.9,141.6 49.2,121.5 52.9,121.5"/>
<polygon fill="#dbeffc" points="402.6,-1.7 413.5,6.5 434.4,4.7 437.1,-1.7"/>
<polygon fill="#dbeffc" points="37.9,242.9 48.3,211.2 61.0,201.2 74.6,203.9 86.4,212.1 92.7,242.0 83.7,247.5 65.5,258.3 52.8,264.7 41.9,267.4"/>
<polygon fill="#dbeffc" points="27.4,271.9 32.0,266.5 37.9,271.9 31.1,276.5"/>
<polygon fill="#dbeffc" points="106.7,272.8 110.9,258.3 117.2,245.6 127.2,246.5 138.1,260.1 156.2,262.0 168.9,264.7 177.1,273.8 188.0,303.7 108.1,303.7"/>
<polygon fill="#dbeffc" points="0.2,297.3 6.6,301.5 6.6,303.7 0.2,303.7"/>
<polygon fill="#dbeffc" points="432.2,212.1 450.3,209.0 475.7,207.9 508.4,212.1 521.1,222.1 541.0,233.8 554.6,242.4 551.0,257.4 540.1,259.8 508.4,253.8 479.4,249.3 454.0,242.4 444.9,228.4"/>
<polygon fill="#d2d2d2" points="86.0,0.0 84.5,12.0 81.5,26.0 76.5,40.0 71.0,55.0 66.5,68.0 62.8,80.4 57.6,92.8 52.6,98.0 47.0,112.0 40.2,127.8 34.5,139.1 30.0,152.7 27.0,158.0 24.0,170.0 20.0,183.0 18.0,188.5 15.5,199.0 13.1,209.6 10.0,218.5 6.9,227.1 2.9,225.4 2.9,242.3 1.2,250.2 0.0,256.0 0.0,0.0"/>
<polygon fill="#d2d2d2" points="588.0,0.0 590.5,10.0 593.0,17.0 596.5,27.0 599.5,34.0 603.8,37.6 606.0,45.0 607.7,51.6 610.0,58.0 611.8,64.7 613.5,76.7 618.3,85.1 622.7,96.3 624.0,105.0 625.2,114.4 628.0,135.3 630.3,142.3 634.4,149.3 636.2,152.0 636.2,55.0 636.2,55.0 635.0,53.0 630.8,44.6 624.4,33.5 621.0,26.5 618.3,19.5 615.5,8.0 614.0,0.0"/>
<polygon fill="#f9b9a8" points="74.3,30.9 82.7,30.9 84.5,52.3 83.6,60.7 74.3,60.7"/>
<polygon fill="#f59278" points="74.3,30.9 79.3,30.9 78.0,43.0 75.2,60.7 74.3,60.7"/>
<polygon fill="#ffffff" points="63.5,60.7 72.1,60.7 65.9,74.6 64.4,78.4 63.5,80.2"/>
<polygon fill="#f59278" points="52.9,91.4 57.5,91.4 52.9,96.0"/>
<polygon fill="#fcdee1" points="31.5,121.5 41.7,121.5 37.1,133.2 32.4,145.3 31.5,147.6"/>
<polygon fill="#ffffff" points="19.4,151.8 29.1,151.8 27.8,158.4 19.4,158.4"/>
<polygon fill="#ffffff" points="20.5,151.3 31.1,151.3 26.2,163.1 20.5,163.1"/>
<polygon fill="#ffffff" points="2.9,227.5 10.2,227.5 10.2,242.0 2.9,242.0"/>
<polygon fill="#ffffff" points="588.2,-1.7 593.6,-1.7 593.6,32.8 588.2,32.8"/>
<polygon fill="#ffffff" points="614.5,-1.7 619.9,-1.7 619.9,30.1 614.5,30.1"/>
<polygon fill="#ffffff" points="610.9,60.0 615.4,60.0 615.4,76.3 610.9,76.3"/>
<circle cx="55.2" cy="146.4" r="2.1" fill="#4a4a4a"/>
<circle cx="55.2" cy="202.6" r="2.1" fill="#4a4a4a"/>
<circle cx="55.2" cy="230.7" r="2.1" fill="#4a4a4a"/>
<circle cx="69.2" cy="104.2" r="2.1" fill="#4a4a4a"/>
<circle cx="69.2" cy="132.3" r="2.1" fill="#4a4a4a"/>
<circle cx="69.2" cy="216.6" r="2.1" fill="#4a4a4a"/>
<circle cx="69.2" cy="244.8" r="2.1" fill="#4a4a4a"/>
<circle cx="83.2" cy="62.0" r="2.1" fill="#4a4a4a"/>
<circle cx="83.2" cy="118.2" r="2.1" fill="#4a4a4a"/>
<circle cx="83.2" cy="146.4" r="2.1" fill="#4a4a4a"/>
<circle cx="97.3" cy="104.2" r="2.1" fill="#4a4a4a"/>
<circle cx="97.3" cy="132.3" r="2.1" fill="#4a4a4a"/>
<circle cx="97.3" cy="160.4" r="2.1" fill="#4a4a4a"/>
<circle cx="111.3" cy="118.2" r="2.1" fill="#4a4a4a"/>
<circle cx="111.3" cy="146.4" r="2.1" fill="#4a4a4a"/>
<circle cx="111.3" cy="174.5" r="2.1" fill="#4a4a4a"/>
<circle cx="111.3" cy="258.8" r="2.1" fill="#4a4a4a"/>
<circle cx="111.3" cy="287.0" r="2.1" fill="#4a4a4a"/>
<circle cx="125.4" cy="132.3" r="2.1" fill="#4a4a4a"/>
<circle cx="125.4" cy="160.4" r="2.1" fill="#4a4a4a"/>
<circle cx="125.4" cy="272.9" r="2.1" fill="#4a4a4a"/>
<circle cx="125.4" cy="301.0" r="2.1" fill="#4a4a4a"/>
<circle cx="139.4" cy="118.2" r="2.1" fill="#4a4a4a"/>
<circle cx="139.4" cy="146.4" r="2.1" fill="#4a4a4a"/>
<circle cx="139.4" cy="174.5" r="2.1" fill="#4a4a4a"/>
<circle cx="139.4" cy="287.0" r="2.1" fill="#4a4a4a"/>
<circle cx="153.5" cy="132.3" r="2.1" fill="#4a4a4a"/>
<circle cx="153.5" cy="160.4" r="2.1" fill="#4a4a4a"/>
<circle cx="153.5" cy="272.9" r="2.1" fill="#4a4a4a"/>
<circle cx="153.5" cy="301.0" r="2.1" fill="#4a4a4a"/>
<circle cx="167.5" cy="146.4" r="2.1" fill="#4a4a4a"/>
<circle cx="167.5" cy="174.5" r="2.1" fill="#4a4a4a"/>
<circle cx="167.5" cy="287.0" r="2.1" fill="#4a4a4a"/>
<circle cx="181.5" cy="132.3" r="2.1" fill="#4a4a4a"/>
<circle cx="181.5" cy="160.4" r="2.1" fill="#4a4a4a"/>
<circle cx="181.5" cy="188.5" r="2.1" fill="#4a4a4a"/>
<circle cx="195.6" cy="146.4" r="2.1" fill="#4a4a4a"/>
<circle cx="195.6" cy="174.5" r="2.1" fill="#4a4a4a"/>
<circle cx="209.6" cy="132.3" r="2.1" fill="#4a4a4a"/>
<circle cx="209.6" cy="160.4" r="2.1" fill="#4a4a4a"/>
<circle cx="209.6" cy="188.5" r="2.1" fill="#4a4a4a"/>
<circle cx="223.7" cy="118.2" r="2.1" fill="#4a4a4a"/>
<circle cx="223.7" cy="146.4" r="2.1" fill="#4a4a4a"/>
<circle cx="223.7" cy="174.5" r="2.1" fill="#4a4a4a"/>
<circle cx="237.7" cy="132.3" r="2.1" fill="#4a4a4a"/>
<circle cx="237.7" cy="160.4" r="2.1" fill="#4a4a4a"/>
<circle cx="237.7" cy="188.5" r="2.1" fill="#4a4a4a"/>
<circle cx="251.8" cy="118.2" r="2.1" fill="#4a4a4a"/>
<circle cx="251.8" cy="146.4" r="2.1" fill="#4a4a4a"/>
<circle cx="251.8" cy="174.5" r="2.1" fill="#4a4a4a"/>
<circle cx="265.8" cy="132.3" r="2.1" fill="#4a4a4a"/>
<circle cx="265.8" cy="160.4" r="2.1" fill="#4a4a4a"/>
<circle cx="265.8" cy="188.5" r="2.1" fill="#4a4a4a"/>
<circle cx="279.8" cy="118.2" r="2.1" fill="#4a4a4a"/>
<circle cx="279.8" cy="146.4" r="2.1" fill="#4a4a4a"/>
<circle cx="279.8" cy="174.5" r="2.1" fill="#4a4a4a"/>
<circle cx="293.9" cy="132.3" r="2.1" fill="#4a4a4a"/>
<circle cx="293.9" cy="160.4" r="2.1" fill="#4a4a4a"/>
<circle cx="293.9" cy="188.5" r="2.1" fill="#4a4a4a"/>
<circle cx="307.9" cy="118.2" r="2.1" fill="#4a4a4a"/>
<circle cx="307.9" cy="146.4" r="2.1" fill="#4a4a4a"/>
<circle cx="307.9" cy="174.5" r="2.1" fill="#4a4a4a"/>
<circle cx="322.0" cy="132.3" r="2.1" fill="#4a4a4a"/>
<circle cx="322.0" cy="160.4" r="2.1" fill="#4a4a4a"/>
<circle cx="322.0" cy="188.5" r="2.1" fill="#4a4a4a"/>
<circle cx="336.0" cy="146.4" r="2.1" fill="#4a4a4a"/>
<circle cx="336.0" cy="174.5" r="2.1" fill="#4a4a4a"/>
<circle cx="350.1" cy="132.3" r="2.1" fill="#4a4a4a"/>
<circle cx="350.1" cy="160.4" r="2.1" fill="#4a4a4a"/>
<circle cx="364.1" cy="118.2" r="2.1" fill="#4a4a4a"/>
<circle cx="364.1" cy="146.4" r="2.1" fill="#4a4a4a"/>
<circle cx="378.1" cy="104.2" r="2.1" fill="#4a4a4a"/>
<circle cx="378.1" cy="132.3" r="2.1" fill="#4a4a4a"/>
<circle cx="392.2" cy="90.1" r="2.1" fill="#4a4a4a"/>
<circle cx="392.2" cy="118.2" r="2.1" fill="#4a4a4a"/>
<circle cx="392.2" cy="146.4" r="2.1" fill="#4a4a4a"/>
<circle cx="406.2" cy="76.1" r="2.1" fill="#4a4a4a"/>
<circle cx="406.2" cy="104.2" r="2.1" fill="#4a4a4a"/>
<circle cx="406.2" cy="132.3" r="2.1" fill="#4a4a4a"/>
<circle cx="420.3" cy="62.0" r="2.1" fill="#4a4a4a"/>
<circle cx="420.3" cy="90.1" r="2.1" fill="#4a4a4a"/>
<circle cx="420.3" cy="118.2" r="2.1" fill="#4a4a4a"/>
<circle cx="420.3" cy="146.4" r="2.1" fill="#4a4a4a"/>
<circle cx="434.3" cy="76.1" r="2.1" fill="#4a4a4a"/>
<circle cx="434.3" cy="132.3" r="2.1" fill="#4a4a4a"/>
<circle cx="448.4" cy="146.4" r="2.1" fill="#4a4a4a"/>
<circle cx="462.4" cy="132.3" r="2.1" fill="#4a4a4a"/>
<circle cx="462.4" cy="216.6" r="2.1" fill="#4a4a4a"/>
<circle cx="476.4" cy="118.2" r="2.1" fill="#4a4a4a"/>
<circle cx="476.4" cy="146.4" r="2.1" fill="#4a4a4a"/>
<circle cx="476.4" cy="230.7" r="2.1" fill="#4a4a4a"/>
<circle cx="490.5" cy="132.3" r="2.1" fill="#4a4a4a"/>
<circle cx="490.5" cy="160.4" r="2.1" fill="#4a4a4a"/>
<circle cx="490.5" cy="216.6" r="2.1" fill="#4a4a4a"/>
<circle cx="504.5" cy="146.4" r="2.1" fill="#4a4a4a"/>
<circle cx="504.5" cy="230.7" r="2.1" fill="#4a4a4a"/>
<circle cx="518.6" cy="132.3" r="2.1" fill="#4a4a4a"/>
<circle cx="518.6" cy="160.4" r="2.1" fill="#4a4a4a"/>
<circle cx="518.6" cy="244.8" r="2.1" fill="#4a4a4a"/>
<circle cx="532.6" cy="33.9" r="2.1" fill="#4a4a4a"/>
<circle cx="532.6" cy="146.4" r="2.1" fill="#4a4a4a"/>
<circle cx="532.6" cy="174.5" r="2.1" fill="#4a4a4a"/>
<circle cx="546.7" cy="19.8" r="2.1" fill="#4a4a4a"/>
<circle cx="546.7" cy="132.3" r="2.1" fill="#4a4a4a"/>
<circle cx="546.7" cy="160.4" r="2.1" fill="#4a4a4a"/>
<circle cx="546.7" cy="244.8" r="2.1" fill="#4a4a4a"/>
<circle cx="560.7" cy="5.8" r="2.1" fill="#4a4a4a"/>
<circle cx="560.7" cy="33.9" r="2.1" fill="#4a4a4a"/>
<circle cx="560.7" cy="62.0" r="2.1" fill="#4a4a4a"/>
<circle cx="560.7" cy="118.2" r="2.1" fill="#4a4a4a"/>
<circle cx="560.7" cy="146.4" r="2.1" fill="#4a4a4a"/>
<circle cx="560.7" cy="174.5" r="2.1" fill="#4a4a4a"/>
<circle cx="574.7" cy="132.3" r="2.1" fill="#4a4a4a"/>
<circle cx="574.7" cy="160.4" r="2.1" fill="#4a4a4a"/>
<circle cx="588.8" cy="33.9" r="2.1" fill="#4a4a4a"/>
<circle cx="588.8" cy="146.4" r="2.1" fill="#4a4a4a"/>
<circle cx="588.8" cy="174.5" r="2.1" fill="#4a4a4a"/>
<circle cx="602.8" cy="160.4" r="2.1" fill="#4a4a4a"/>
<circle cx="602.8" cy="188.5" r="2.1" fill="#4a4a4a"/>
<polyline fill="none" stroke="#000" stroke-width="1.3" points="86.0,0.0 84.5,12.0 81.5,26.0 76.5,40.0 71.0,55.0 66.5,68.0 62.8,80.4 57.6,92.8 52.6,98.0 47.0,112.0 40.2,127.8 34.5,139.1 30.0,152.7 27.0,158.0 24.0,170.0 20.0,183.0 18.0,188.5 15.5,199.0 13.1,209.6 10.0,218.5 6.9,227.1 2.9,225.4 2.9,242.3 1.2,250.2 0.0,256.0"/>
<polyline fill="none" stroke="#000" stroke-width="1.3" points="588.0,0.0 590.5,10.0 593.0,17.0 596.5,27.0 599.5,34.0 603.8,37.6 606.0,45.0 607.7,51.6 610.0,58.0 611.8,64.7 613.5,76.7 618.3,85.1 622.7,96.3 624.0,105.0 625.2,114.4 628.0,135.3 630.3,142.3 634.4,149.3 636.2,152.0"/>
<polyline fill="none" stroke="#000" stroke-width="1.3" points="614.0,0.0 615.5,8.0 618.3,19.5 621.0,26.5 624.4,33.5 630.8,44.6 635.0,53.0 636.2,55.0"/>
<polygon fill="none" stroke="#000" stroke-width="1.1" points="592.3,67.5 599.3,78.7"/>
<polygon fill="none" stroke="#000" stroke-width="1.1" points="609.3,106.0 606.5,110.2 614.4,133.4 615.1,122.6"/>
<polygon fill="none" stroke="#000" stroke-width="1.1" points="624.4,178.9 621.8,180.9 625.7,203.6 630.1,201.6"/>
</g>
<rect x="0" y="0" width="635.5" height="302.8" fill="none" stroke="#000" stroke-width="2.6"/>
<line x1="-5.8" y1="0.0" x2="0" y2="0.0" stroke="#000" stroke-width="1.4"/>
<line x1="-11.5" y1="30.3" x2="0" y2="30.3" stroke="#000" stroke-width="2.7"/>
<line x1="-5.8" y1="60.6" x2="0" y2="60.6" stroke="#000" stroke-width="1.4"/>
<line x1="-11.5" y1="90.8" x2="0" y2="90.8" stroke="#000" stroke-width="2.7"/>
<line x1="-5.8" y1="121.1" x2="0" y2="121.1" stroke="#000" stroke-width="1.4"/>
<line x1="-11.5" y1="151.4" x2="0" y2="151.4" stroke="#000" stroke-width="2.7"/>
<line x1="-5.8" y1="181.7" x2="0" y2="181.7" stroke="#000" stroke-width="1.4"/>
<line x1="-11.5" y1="212.0" x2="0" y2="212.0" stroke="#000" stroke-width="2.7"/>
<line x1="-5.8" y1="242.2" x2="0" y2="242.2" stroke="#000" stroke-width="1.4"/>
<line x1="-11.5" y1="272.5" x2="0" y2="272.5" stroke="#000" stroke-width="2.7"/>
<line x1="-5.8" y1="302.8" x2="0" y2="302.8" stroke="#000" stroke-width="1.4"/>
<line x1="0.0" y1="302.8" x2="0.0" y2="308.6" stroke="#000" stroke-width="1.4"/>
<line x1="53.0" y1="302.8" x2="53.0" y2="314.3" stroke="#000" stroke-width="2.7"/>
<line x1="106.0" y1="302.8" x2="106.0" y2="308.6" stroke="#000" stroke-width="1.4"/>
<line x1="159.1" y1="302.8" x2="159.1" y2="314.3" stroke="#000" stroke-width="2.7"/>
<line x1="212.1" y1="302.8" x2="212.1" y2="308.6" stroke="#000" stroke-width="1.4"/>
<line x1="265.1" y1="302.8" x2="265.1" y2="314.3" stroke="#000" stroke-width="2.7"/>
<line x1="318.1" y1="302.8" x2="318.1" y2="308.6" stroke="#000" stroke-width="1.4"/>
<line x1="371.1" y1="302.8" x2="371.1" y2="314.3" stroke="#000" stroke-width="2.7"/>
<line x1="424.1" y1="302.8" x2="424.1" y2="308.6" stroke="#000" stroke-width="1.4"/>
<line x1="477.2" y1="302.8" x2="477.2" y2="314.3" stroke="#000" stroke-width="2.7"/>
<line x1="530.2" y1="302.8" x2="530.2" y2="308.6" stroke="#000" stroke-width="1.4"/>
<line x1="583.2" y1="302.8" x2="583.2" y2="314.3" stroke="#000" stroke-width="2.7"/>
<line x1="636.2" y1="302.8" x2="636.2" y2="308.6" stroke="#000" stroke-width="1.4"/>
<text transform="translate(10.7,-10.8) scale(1,1.030)" font-size="29.2" font-weight="bold">D</text>
<text transform="translate(51.6,-8.6) scale(1,1.050)" font-size="33.0">CMIP6-CMIP5</text>
</g>
<text transform="translate(51.2,76.9) scale(1,1.020)" font-size="31.2" text-anchor="end">4°N</text>
<text transform="translate(51.2,137.4) scale(1,1.020)" font-size="31.2" text-anchor="end">2°N</text>
<text transform="translate(51.2,198.0) scale(1,1.020)" font-size="31.2" text-anchor="end">0°N</text>
<text transform="translate(49.6,258.6) scale(1,1.020)" font-size="31.2" text-anchor="end">2°S</text>
<text transform="translate(49.6,319.1) scale(1,1.020)" font-size="31.2" text-anchor="end">4°S</text>
<text transform="translate(51.2,445.0) scale(1,1.020)" font-size="31.2" text-anchor="end">4°N</text>
<text transform="translate(51.2,505.5) scale(1,1.020)" font-size="31.2" text-anchor="end">2°N</text>
<text transform="translate(51.2,566.1) scale(1,1.020)" font-size="31.2" text-anchor="end">0°N</text>
<text transform="translate(49.6,626.7) scale(1,1.020)" font-size="31.2" text-anchor="end">2°S</text>
<text transform="translate(49.6,687.2) scale(1,1.020)" font-size="31.2" text-anchor="end">4°S</text>
<text transform="translate(135.4,759.7) scale(1,1.020)" font-size="30.1" text-anchor="middle">45°E</text>
<text transform="translate(241.5,759.7) scale(1,1.020)" font-size="30.1" text-anchor="middle">55°E</text>
<text transform="translate(347.5,759.7) scale(1,1.020)" font-size="30.1" text-anchor="middle">65°E</text>
<text transform="translate(453.5,759.7) scale(1,1.020)" font-size="30.1" text-anchor="middle">75°E</text>
<text transform="translate(559.5,759.7) scale(1,1.020)" font-size="30.1" text-anchor="middle">85°E</text>
<text transform="translate(665.6,759.7) scale(1,1.020)" font-size="30.1" text-anchor="middle">95°E</text>
<text transform="translate(834.4,759.7) scale(1,1.020)" font-size="30.1" text-anchor="middle">45°E</text>
<text transform="translate(940.5,759.7) scale(1,1.020)" font-size="30.1" text-anchor="middle">55°E</text>
<text transform="translate(1046.5,759.7) scale(1,1.020)" font-size="30.1" text-anchor="middle">65°E</text>
<text transform="translate(1152.5,759.7) scale(1,1.020)" font-size="30.1" text-anchor="middle">75°E</text>
<text transform="translate(1258.5,759.7) scale(1,1.020)" font-size="30.1" text-anchor="middle">85°E</text>
<text transform="translate(1364.6,759.7) scale(1,1.020)" font-size="30.1" text-anchor="middle">95°E</text>
<rect x="149.00" y="786.4" width="83.40" height="39.2" fill="#112044"/>
<rect x="232.10" y="786.4" width="83.40" height="39.2" fill="#0d5aa0"/>
<rect x="315.20" y="786.4" width="83.40" height="39.2" fill="#3d91c8"/>
<rect x="398.30" y="786.4" width="83.40" height="39.2" fill="#77c0d6"/>
<rect x="481.40" y="786.4" width="83.40" height="39.2" fill="#dbeffc"/>
<rect x="564.50" y="786.4" width="83.40" height="39.2" fill="#ffffff"/>
<rect x="647.60" y="786.4" width="83.40" height="39.2" fill="#fcdee1"/>
<rect x="730.70" y="786.4" width="83.40" height="39.2" fill="#f9b9a8"/>
<rect x="813.80" y="786.4" width="83.40" height="39.2" fill="#f59278"/>
<rect x="896.90" y="786.4" width="83.40" height="39.2" fill="#f06c4f"/>
<rect x="980.00" y="786.4" width="83.40" height="39.2" fill="#ec3c2f"/>
<rect x="1063.10" y="786.4" width="83.40" height="39.2" fill="#cf2028"/>
<rect x="1146.20" y="786.4" width="83.40" height="39.2" fill="#a61e24"/>
<rect x="1229.30" y="786.4" width="83.40" height="39.2" fill="#78121a"/>
<line x1="232.10" y1="786.4" x2="232.10" y2="825.6" stroke="#000" stroke-width="1"/>
<line x1="315.20" y1="786.4" x2="315.20" y2="825.6" stroke="#000" stroke-width="1"/>
<line x1="398.30" y1="786.4" x2="398.30" y2="825.6" stroke="#000" stroke-width="1"/>
<line x1="481.40" y1="786.4" x2="481.40" y2="825.6" stroke="#000" stroke-width="1"/>
<line x1="564.50" y1="786.4" x2="564.50" y2="825.6" stroke="#000" stroke-width="1"/>
<line x1="647.60" y1="786.4" x2="647.60" y2="825.6" stroke="#000" stroke-width="1"/>
<line x1="730.70" y1="786.4" x2="730.70" y2="825.6" stroke="#000" stroke-width="1"/>
<line x1="813.80" y1="786.4" x2="813.80" y2="825.6" stroke="#000" stroke-width="1"/>
<line x1="896.90" y1="786.4" x2="896.90" y2="825.6" stroke="#000" stroke-width="1"/>
<line x1="980.00" y1="786.4" x2="980.00" y2="825.6" stroke="#000" stroke-width="1"/>
<line x1="1063.10" y1="786.4" x2="1063.10" y2="825.6" stroke="#000" stroke-width="1"/>
<line x1="1146.20" y1="786.4" x2="1146.20" y2="825.6" stroke="#000" stroke-width="1"/>
<line x1="1229.30" y1="786.4" x2="1229.30" y2="825.6" stroke="#000" stroke-width="1"/>
<rect x="149.0" y="786.4" width="1163.4" height="39.2" fill="none" stroke="#000" stroke-width="1.2"/>
<text x="232.6" y="859.3" font-size="30" text-anchor="middle">-0.18</text>
<text x="315.7" y="859.3" font-size="30" text-anchor="middle">-0.14</text>
<text x="400.6" y="859.3" font-size="30" text-anchor="middle">-0.1</text>
<text x="481.9" y="859.3" font-size="30" text-anchor="middle">-0.06</text>
<text x="565.0" y="859.3" font-size="30" text-anchor="middle">-0.02</text>
<text x="648.1" y="859.3" font-size="30" text-anchor="middle">0.02</text>
<text x="731.2" y="859.3" font-size="30" text-anchor="middle">0.06</text>
<text x="816.1" y="859.3" font-size="30" text-anchor="middle">0.1</text>
<text x="897.4" y="859.3" font-size="30" text-anchor="middle">0.14</text>
<text x="980.5" y="859.3" font-size="30" text-anchor="middle">0.18</text>
<text x="1063.6" y="859.3" font-size="30" text-anchor="middle">0.22</text>
<text x="1146.7" y="859.3" font-size="30" text-anchor="middle">0.26</text>
<text x="1229.8" y="859.3" font-size="30" text-anchor="middle">0.3</text>
<text transform="translate(1318.0,814.2) scale(1,1.000)" font-size="35.2">m/s</text>
</svg></body></html>
